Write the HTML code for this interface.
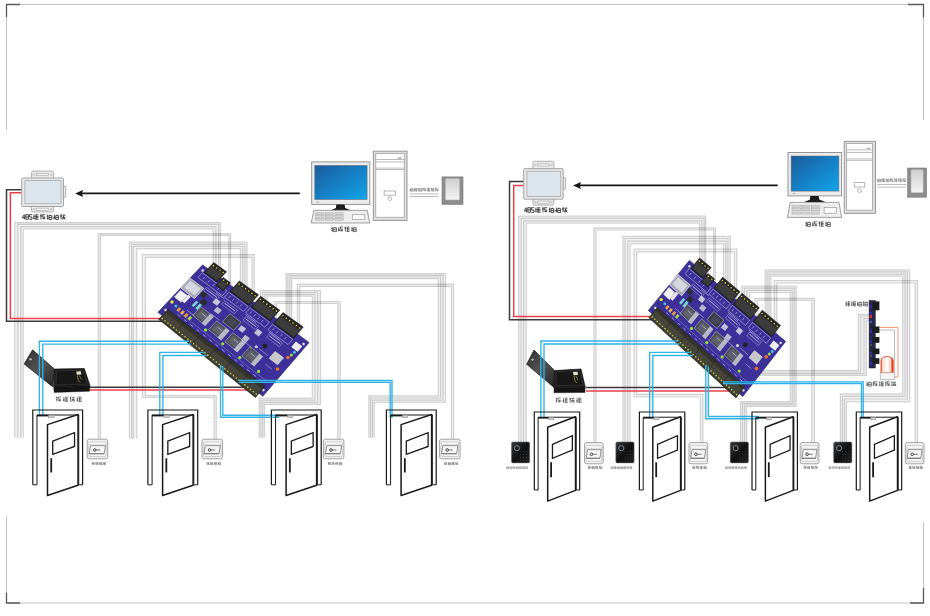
<!DOCTYPE html>
<html><head><meta charset="utf-8"><style>
html,body{margin:0;padding:0;background:#fff;width:930px;height:616px;overflow:hidden}
svg{display:block;font-family:"Liberation Sans",sans-serif}
</style></head><body>
<svg width="930" height="616" viewBox="0 0 930 616">
<rect width="930" height="616" fill="#fff"/>
<path d="M6.5,130 L6.5,4.5 L923.5,4.5 L923.5,120" stroke="#c4c4c4" stroke-width="1" fill="none" />
<path d="M6.5,516 L6.5,603 L923.5,603 L923.5,522" stroke="#c4c4c4" stroke-width="1" fill="none" />
<path d="M6.5,17 L6.5,4.5 L20,4.5" stroke="#5a5a5a" stroke-width="1.3" fill="none" />
<path d="M908,4.5 L923.5,4.5 L923.5,17.5" stroke="#5a5a5a" stroke-width="1.3" fill="none" />
<path d="M6.5,592.5 L6.5,603 L20,603" stroke="#5a5a5a" stroke-width="1.3" fill="none" />
<path d="M910,603 L923.5,603 L923.5,588" stroke="#5a5a5a" stroke-width="1.3" fill="none" />
<polygon points="220.4,285 220.4,222.6 14.7,222.6 14.7,437.8 23.3,437.8 23.3,228.8 213.2,228.8 213.2,285" fill="#000" stroke="none" stroke-width="0" fill-opacity="0.05"/>
<path d="M220.4,285 L220.4,222.6 L14.7,222.6 L14.7,437.8" stroke="#000" stroke-width="1.2" fill="none" stroke-opacity="0.16"/>
<path d="M218.6,285 L218.6,224.4 L17.7,224.4 L17.7,437.8" stroke="#000" stroke-width="1.2" fill="none" stroke-opacity="0.16"/>
<path d="M215.9,285 L215.9,226.6 L20.75,226.6 L20.75,437.8" stroke="#000" stroke-width="1.2" fill="none" stroke-opacity="0.16"/>
<path d="M213.2,285 L213.2,228.8 L23.3,228.8 L23.3,437.8" stroke="#000" stroke-width="1.2" fill="none" stroke-opacity="0.16"/>
<polygon points="230.6,295 230.6,233.6 98.2,233.6 98.2,439.5 100.4,439.5 100.4,235.4 228.8,235.4 228.8,295" fill="#000" stroke="none" stroke-width="0" fill-opacity="0.05"/>
<path d="M230.6,295 L230.6,233.6 L98.2,233.6 L98.2,439.5" stroke="#000" stroke-width="1.2" fill="none" stroke-opacity="0.16"/>
<path d="M228.8,295 L228.8,235.4 L100.4,235.4 L100.4,439.5" stroke="#000" stroke-width="1.2" fill="none" stroke-opacity="0.16"/>
<polygon points="247.1,305 247.1,242.2 129.4,242.2 129.4,438.8 136.8,438.8 136.8,248.6 240.4,248.6 240.4,305" fill="#000" stroke="none" stroke-width="0" fill-opacity="0.05"/>
<path d="M247.1,305 L247.1,242.2 L129.4,242.2 L129.4,438.8" stroke="#000" stroke-width="1.2" fill="none" stroke-opacity="0.16"/>
<path d="M244.9,305 L244.9,244.4 L131.6,244.4 L131.6,438.8" stroke="#000" stroke-width="1.2" fill="none" stroke-opacity="0.16"/>
<path d="M242.7,305 L242.7,246.3 L133.2,246.3 L133.2,438.8" stroke="#000" stroke-width="1.2" fill="none" stroke-opacity="0.16"/>
<path d="M240.4,305 L240.4,248.6 L136.8,248.6 L136.8,438.8" stroke="#000" stroke-width="1.2" fill="none" stroke-opacity="0.16"/>
<polygon points="254.3,310 254.3,254.6 142.4,254.6 142.4,397.5 214,397.5 214,439.5 216.3,439.5 216.3,395.6 145.4,395.6 145.4,257.4 252,257.4 252,310" fill="#000" stroke="none" stroke-width="0" fill-opacity="0.05"/>
<path d="M254.3,310 L254.3,254.6 L142.4,254.6 L142.4,397.5 L214,397.5 L214,439.5" stroke="#000" stroke-width="1.2" fill="none" stroke-opacity="0.16"/>
<path d="M252,310 L252,257.4 L145.4,257.4 L145.4,395.6 L216.3,395.6 L216.3,439.5" stroke="#000" stroke-width="1.2" fill="none" stroke-opacity="0.16"/>
<polygon points="286,335 286,273.6 445.5,273.6 445.5,402.3 374.2,402.3 374.2,437.8 368.8,437.8 368.8,395.85 438.3,395.85 438.3,278.7 291.7,278.7 291.7,335" fill="#000" stroke="none" stroke-width="0" fill-opacity="0.05"/>
<path d="M286,335 L286,273.6 L445.5,273.6 L445.5,402.3 L374.2,402.3 L374.2,437.8" stroke="#000" stroke-width="1.2" fill="none" stroke-opacity="0.16"/>
<path d="M287.9,335 L287.9,275.3 L443.1,275.3 L443.1,400.15 L372.4,400.15 L372.4,437.8" stroke="#000" stroke-width="1.2" fill="none" stroke-opacity="0.16"/>
<path d="M289.8,335 L289.8,277 L440.7,277 L440.7,398 L370.6,398 L370.6,437.8" stroke="#000" stroke-width="1.2" fill="none" stroke-opacity="0.16"/>
<path d="M291.7,335 L291.7,278.7 L438.3,278.7 L438.3,395.85 L368.8,395.85 L368.8,437.8" stroke="#000" stroke-width="1.2" fill="none" stroke-opacity="0.16"/>
<polygon points="297.4,342 297.4,284.1 453.6,284.1 453.6,439.5 451.4,439.5 451.4,286.4 299.7,286.4 299.7,342" fill="#000" stroke="none" stroke-width="0" fill-opacity="0.05"/>
<path d="M297.4,342 L297.4,284.1 L453.6,284.1 L453.6,439.5" stroke="#000" stroke-width="1.2" fill="none" stroke-opacity="0.16"/>
<path d="M299.7,342 L299.7,286.4 L451.4,286.4 L451.4,439.5" stroke="#000" stroke-width="1.2" fill="none" stroke-opacity="0.16"/>
<polygon points="260.5,318 260.5,290.5 320.4,290.5 320.4,404.4 264.5,404.4 264.5,437.8 259.1,437.8 259.1,398.1 312.3,398.1 312.3,296.2 267.1,296.2 267.1,318" fill="#000" stroke="none" stroke-width="0" fill-opacity="0.05"/>
<path d="M260.5,318 L260.5,290.5 L320.4,290.5 L320.4,404.4 L264.5,404.4 L264.5,437.8" stroke="#000" stroke-width="1.2" fill="none" stroke-opacity="0.16"/>
<path d="M262.7,318 L262.7,292.4 L317.7,292.4 L317.7,402.3 L262.7,402.3 L262.7,437.8" stroke="#000" stroke-width="1.2" fill="none" stroke-opacity="0.16"/>
<path d="M264.9,318 L264.9,294.3 L315,294.3 L315,400.2 L260.9,400.2 L260.9,437.8" stroke="#000" stroke-width="1.2" fill="none" stroke-opacity="0.16"/>
<path d="M267.1,318 L267.1,296.2 L312.3,296.2 L312.3,398.1 L259.1,398.1 L259.1,437.8" stroke="#000" stroke-width="1.2" fill="none" stroke-opacity="0.16"/>
<polygon points="274,325 274,301.5 340.2,301.5 340.2,439.5 337.8,439.5 337.8,303.4 276.4,303.4 276.4,325" fill="#000" stroke="none" stroke-width="0" fill-opacity="0.05"/>
<path d="M274,325 L274,301.5 L340.2,301.5 L340.2,439.5" stroke="#000" stroke-width="1.2" fill="none" stroke-opacity="0.16"/>
<path d="M276.4,325 L276.4,303.4 L337.8,303.4 L337.8,439.5" stroke="#000" stroke-width="1.2" fill="none" stroke-opacity="0.16"/>
<path d="M21.7,189.8 L6.5,189.8 L6.5,321.3 L172,321.3" stroke="#3a3a3a" stroke-width="1.5" fill="none" />
<path d="M21.7,192.8 L10.4,192.8 L10.4,318.6 L172,318.6" stroke="#e8404c" stroke-width="1.5" fill="none" />
<path d="M86,387.3 L250,387.3" stroke="#3a3a3a" stroke-width="1.5" fill="none" />
<path d="M86,390.1 L250,390.1" stroke="#e8404c" stroke-width="1.5" fill="none" />
<defs><linearGradient id="pbl" x1="0" y1="0" x2="1" y2="1"><stop offset="0" stop-color="#2c2c2c"/><stop offset="0.5" stop-color="#555555"/><stop offset="1" stop-color="#222222"/></linearGradient></defs>
<polygon points="24.1,364 32.6,349.8 55.3,369.7 52.5,386.7" fill="url(#pbl)" stroke="#0e0e0e" stroke-width="0.6" />
<circle cx="30.5" cy="359.32" r="1.2" fill="#bbb"/>
<polygon points="54.8,369.1 84.3,368.5 90,385.6 53.6,386.7" fill="#222" stroke="#101010" stroke-width="0.7" />
<polygon points="57.02,370.78 82.39,370.3 87.29,383.98 55.99,384.86" fill="#171717" stroke="#3a3a3a" stroke-width="0.5" />
<polygon points="53.6,386.7 90,385.6 89.4,391.3 54.2,392.4" fill="#141414" stroke="#0a0a0a" stroke-width="0.4" />
<polygon points="76.3,371.5 80.8,371.2 81.3,374.5 76.8,374.8" fill="#e8e2c8" stroke="none" stroke-width="1.0" />
<path d="M77.3,375.5 L78.3,380.5 L80.3,382.5" stroke="#b8a040" stroke-width="0.7" fill="none" />
<path d="M79.3,375.5 L81.3,379.5" stroke="#c0b050" stroke-width="0.6" fill="none" />
<path d="M56.83,396.81L56.83,401.59M56.01,399.47L57.49,399.72M56.01,397.35L57.49,397.54M58.02,396.97L61.09,396.97M58.28,396.97L58.28,399.2M58.28,399.2L61.09,399.2M58.02,400.53L61.09,400.53M59.88,399.2L59.88,401.59M63.86,396.81L63.86,401.59M62.91,399.47L64.66,399.23M62.91,400.53L64.66,400.69M65.19,397.08L67.99,397.08M65.19,398.67L67.99,398.67M65.19,400L67.99,400M65.19,401.43L67.99,401.43M66.06,397.08L66.06,401.43M70.5,396.81L70.5,401.59M69.81,397.35L71.03,397.57M69.81,398.41L71.03,398.66M71.56,397.35L74.89,397.35M73.67,397.35L71.56,401.59M73.14,398.94L74.89,401.59M71.56,399.47L74.73,399.47M72.09,400.79L74.47,400.79M77.39,396.81L77.39,401.59M76.71,399.47L77.92,399.52M76.71,400.53L77.92,400.5M78.45,397.08L81.79,397.08M78.45,398.67L81.79,398.67M78.45,400L81.79,400M78.45,401.43L81.79,401.43M79.49,397.08L79.49,401.43" stroke="#555" stroke-width="0.75" fill="none"/>
<rect x="31.52" y="171.16" width="22.15" height="7.84" rx="1.5" fill="#ececec" stroke="#9d9d9d" stroke-width="0.8" />
<rect x="31.52" y="205.5" width="22.15" height="6.47" rx="1.5" fill="#ececec" stroke="#9d9d9d" stroke-width="0.8" />
<rect x="36.54" y="173.48" width="12.12" height="2.2" rx="0" fill="#f4f4f4" stroke="#a5a5a5" stroke-width="0.6" />
<circle cx="34.03" cy="174.58" r="0.9" fill="none" stroke="#a5a5a5" stroke-width="0.5"/>
<circle cx="51.17" cy="174.58" r="0.9" fill="none" stroke="#a5a5a5" stroke-width="0.5"/>
<rect x="36.54" y="208.14" width="12.12" height="2.2" rx="0" fill="#f4f4f4" stroke="#a5a5a5" stroke-width="0.6" />
<circle cx="34.03" cy="209.24" r="0.9" fill="none" stroke="#a5a5a5" stroke-width="0.5"/>
<circle cx="51.17" cy="209.24" r="0.9" fill="none" stroke="#a5a5a5" stroke-width="0.5"/>
<rect x="63" y="186.55" width="2.8" height="10.54" rx="0" fill="#ececec" stroke="#9d9d9d" stroke-width="0.7" />
<rect x="21.7" y="178" width="41.8" height="28.5" rx="1.2" fill="#e9e9e9" stroke="#9a9a9a" stroke-width="0.9" />
<rect x="24.9" y="180.6" width="36.2" height="23.1" rx="0" fill="#dce5eb" stroke="#a9a9a9" stroke-width="0.8" />
<path d="M24.28,219.3L24.28,214.7L22.2,217.8L25,217.8M25.8,214.7h2.6v4.6h-2.6zM25.8,217h2.6M32,214.7h-2.6v2.3h2.6v2.3h-2.6" stroke="#333" stroke-width="0.9" fill="none"/>
<path d="M34.01,214.57L34.01,219.43M33.31,216.19L34.55,216.4M33.31,218.35L34.55,218.25M35.09,214.84L38.49,214.84M35.09,216.46L38.49,216.46M35.09,217.81L38.49,217.81M35.09,219.27L38.49,219.27M36.14,214.84L36.14,219.27M40.98,214.57L40.98,219.43M40.01,215.11L41.79,214.86M40.01,216.19L41.79,215.92M42.33,214.73L45.19,214.73M42.6,214.73L42.6,217M42.6,217L45.19,217M42.33,218.35L45.19,218.35M43.95,217L43.95,219.43M47.68,214.57L47.68,219.43M46.71,218.35L48.49,218.37M46.71,216.19L48.49,215.86M49.03,215.65L51.89,215.65M49.03,215.65L49.03,219.43M51.89,215.65L51.89,219.43M49.03,217.54L51.89,217.54M49.03,219.43L51.89,219.43M50.38,214.57L50.38,215.65M54.38,214.57L54.38,219.43M53.41,218.35L55.19,217.93M53.41,217.27L55.19,217.38M55.73,215.65L58.59,215.65M55.73,215.65L55.73,219.43M58.59,215.65L58.59,219.43M55.73,217.54L58.59,217.54M55.73,219.43L58.59,219.43M57.08,214.57L57.08,215.65M61.08,214.57L61.08,219.43M60.11,215.11L61.89,215.23M60.11,216.19L61.89,216.34M62.43,215.11L65.29,215.11M64.05,215.11L62.43,219.43M63.51,216.73L65.29,219.43M62.43,217.27L65.13,217.27M62.97,218.62L64.86,218.62" stroke="#3a3a3a" stroke-width="0.9" fill="none"/>
<path d="M81.1,193.4 L299.8,193.4" stroke="#151515" stroke-width="1.7" fill="none" />
<polygon points="75.1,193.4 83.1,189.9 81.9,193.4 83.1,196.9" fill="#151515" stroke="none" stroke-width="1.0" />
<rect x="373.3" y="151.2" width="33.7" height="69.2" rx="0" fill="#dedede" stroke="#8f8f8f" stroke-width="0.9" />
<rect x="375.8" y="153.4" width="28.4" height="63.8" rx="0" fill="#ffffff" stroke="#9a9a9a" stroke-width="0.7" />
<path d="M375.8,159.5 L404.2,159.5" stroke="#a0a0a0" stroke-width="0.7" fill="none" />
<path d="M375.8,161.93 L404.2,161.93" stroke="#a0a0a0" stroke-width="0.7" fill="none" />
<path d="M375.8,168.15 L404.2,168.15" stroke="#a0a0a0" stroke-width="0.7" fill="none" />
<path d="M375.8,169.54 L404.2,169.54" stroke="#a0a0a0" stroke-width="0.7" fill="none" />
<rect x="397.56" y="157.43" width="4.04" height="1.38" rx="0" fill="#aaa" stroke="none" stroke-width="1.0" />
<rect x="384.08" y="190.99" width="11.46" height="4.15" rx="0" fill="#fff" stroke="#888" stroke-width="0.6" />
<circle cx="389.81" cy="198.6" r="1.9" fill="#fff" stroke="#888" stroke-width="0.6"/>
<rect x="311.7" y="161.9" width="58.1" height="42.5" rx="0" fill="#ececec" stroke="#8c8c8c" stroke-width="0.9" />
<defs><linearGradient id="scr311" x1="0" y1="0" x2="1" y2="1"><stop offset="0" stop-color="#1d5c9c"/><stop offset="0.55" stop-color="#1583c8"/><stop offset="1" stop-color="#12a6ea"/></linearGradient></defs>
<rect x="314.8" y="165.4" width="52.3" height="34.2" rx="0" fill="url(#scr311)" stroke="#6a6a6a" stroke-width="0.5" />
<path d="M316.2,202 L319.2,202" stroke="#888" stroke-width="0.6" fill="none" />
<polygon points="336.25,204.4 344.55,204.4 345.25,208 351.25,210.6 330.25,210.6 335.95,208" fill="#1b1b1b" stroke="none" stroke-width="1.0" />
<polygon points="313.9,210.3 367.2,210.3 369.8,223 311.2,223" fill="#ededed" stroke="#8a8a8a" stroke-width="0.8" />
<rect x="315.7" y="212.84" width="8.4" height="1.78" rx="0" fill="#d6d6d6" stroke="#9a9a9a" stroke-width="0.4" />
<rect x="315.7" y="215.63" width="8.4" height="1.78" rx="0" fill="#d6d6d6" stroke="#9a9a9a" stroke-width="0.4" />
<rect x="315.7" y="218.43" width="8.4" height="1.78" rx="0" fill="#d6d6d6" stroke="#9a9a9a" stroke-width="0.4" />
<rect x="325.3" y="212.84" width="8.4" height="1.78" rx="0" fill="#d6d6d6" stroke="#9a9a9a" stroke-width="0.4" />
<rect x="325.3" y="215.63" width="8.4" height="1.78" rx="0" fill="#d6d6d6" stroke="#9a9a9a" stroke-width="0.4" />
<rect x="325.3" y="218.43" width="8.4" height="1.78" rx="0" fill="#d6d6d6" stroke="#9a9a9a" stroke-width="0.4" />
<rect x="334.9" y="212.84" width="8.4" height="1.78" rx="0" fill="#d6d6d6" stroke="#9a9a9a" stroke-width="0.4" />
<rect x="334.9" y="215.63" width="8.4" height="1.78" rx="0" fill="#d6d6d6" stroke="#9a9a9a" stroke-width="0.4" />
<rect x="334.9" y="218.43" width="8.4" height="1.78" rx="0" fill="#d6d6d6" stroke="#9a9a9a" stroke-width="0.4" />
<rect x="352.3" y="214.75" width="12.5" height="4.7" rx="0" fill="#fafafa" stroke="#8f8f8f" stroke-width="0.6" />
<path d="M332.18,226.81L332.18,231.59M331.36,230.53L332.84,230.45M331.36,228.41L332.84,228.39M333.37,227.88L336.44,227.88M333.37,227.88L333.37,231.59M336.44,227.88L336.44,231.59M333.37,229.73L336.44,229.73M333.37,231.59L336.44,231.59M334.96,226.81L334.96,227.88M338.91,226.81L338.91,231.59M337.96,230.53L339.71,230.52M337.96,229.47L339.71,229.17M340.24,226.97L343.04,226.97M340.5,226.97L340.5,229.2M340.5,229.2L343.04,229.2M340.24,230.53L343.04,230.53M341.83,229.2L341.83,231.59M345.38,226.81L345.38,231.59M344.56,228.41L346.04,228.35M344.56,227.34L346.04,227.53M346.57,227.08L349.64,227.08M346.57,228.67L349.64,228.67M346.57,230L349.64,230M346.57,231.43L349.64,231.43M347.52,227.08L347.52,231.43M352.11,226.81L352.11,231.59M351.16,230.53L352.91,230.55M351.16,228.41L352.91,228.41M353.44,227.88L356.24,227.88M353.44,227.88L353.44,231.59M356.24,227.88L356.24,231.59M353.44,229.73L356.24,229.73M353.44,231.59L356.24,231.59M354.76,226.81L354.76,227.88" stroke="#444" stroke-width="0.8" fill="none"/>
<path d="M410.24,188.08L410.24,191.32M409.77,190.6L410.6,190.51M409.77,189.88L410.6,189.72M410.96,188.8L413.23,188.8M410.96,188.8L410.96,191.32M413.23,188.8L413.23,191.32M410.96,190.06L413.23,190.06M410.96,191.32L413.23,191.32M412.22,188.08L412.22,188.8M414.53,188.08L414.53,191.32M413.97,189.16L414.98,189.12M413.97,189.88L414.98,189.96M415.34,188.26L417.43,188.26M415.34,189.34L417.43,189.34M415.34,190.24L417.43,190.24M415.34,191.21L417.43,191.21M415.99,188.26L415.99,191.21M418.73,188.08L418.73,191.32M418.17,190.6L419.18,190.38M418.17,188.44L419.18,188.5M419.54,188.8L421.63,188.8M419.54,188.8L419.54,191.32M421.63,188.8L421.63,191.32M419.54,190.06L421.63,190.06M419.54,191.32L421.63,191.32M420.62,188.08L420.62,188.8M423.02,188.08L423.02,191.32M422.37,188.44L423.56,188.62M422.37,189.16L423.56,189.22M423.92,188.19L425.83,188.19M424.1,188.19L424.1,189.7M424.1,189.7L425.83,189.7M423.92,190.6L425.83,190.6M425,189.7L425,191.32M427.22,188.08L427.22,191.32M426.57,190.6L427.76,190.76M426.57,188.44L427.76,188.4M428.12,188.26L430.03,188.26M428.12,189.34L430.03,189.34M428.12,190.24L430.03,190.24M428.12,191.21L430.03,191.21M428.71,188.26L428.71,191.21M431.42,188.08L431.42,191.32M430.77,189.88L431.96,189.66M430.77,188.44L431.96,188.53M432.32,188.26L434.23,188.26M432.32,189.34L434.23,189.34M432.32,190.24L434.23,190.24M432.32,191.21L434.23,191.21M432.91,188.26L432.91,191.21M435.44,188.08L435.44,191.32M434.97,190.6L435.8,190.57M434.97,188.44L435.8,188.31M436.16,188.19L438.43,188.19M436.34,188.19L436.34,189.7M436.34,189.7L438.43,189.7M436.16,190.6L438.43,190.6M437.6,189.7L437.6,191.32" stroke="#666" stroke-width="0.5" fill="none"/>
<path d="M409.7,193.9 L438.7,193.9" stroke="#a9a9a9" stroke-width="0.8" fill="none" />
<path d="M409.7,196.5 L438.7,196.5" stroke="#a9a9a9" stroke-width="0.8" fill="none" />
<defs><linearGradient id="usb442" x1="0" y1="0" x2="0" y2="1"><stop offset="0" stop-color="#cfcfcf"/><stop offset="1" stop-color="#f4f4f4"/></linearGradient></defs>
<rect x="442" y="176.9" width="21" height="27.5" rx="0" fill="#8d8d8d" stroke="#7a7a7a" stroke-width="0.6" />
<rect x="445.4" y="178.5" width="14.2" height="21.4" rx="1.2" fill="url(#usb442)" stroke="#b0b0b0" stroke-width="0.5" />
<polygon points="202.6,264.9 309,342.5 262.8,396.2 158,312.2" fill="#3d3199" stroke="#2c2278" stroke-width="0.7" />
<polygon points="202.39,272.76 226.82,290.75 222.32,295.66 197.92,277.52" fill="none" stroke="#c9c6f0" stroke-width="0.55" />
<path d="M204.71,276.89 L202.92,278.8" stroke="#e0def8" stroke-width="0.6" fill="none" />
<path d="M209.6,280.5 L207.81,282.42" stroke="#e0def8" stroke-width="0.6" fill="none" />
<path d="M214.48,284.11 L212.69,286.04" stroke="#e0def8" stroke-width="0.6" fill="none" />
<path d="M219.37,287.72 L217.57,289.66" stroke="#e0def8" stroke-width="0.6" fill="none" />
<polygon points="228.95,292.32 248.07,306.4 243.54,311.43 224.44,297.24" fill="none" stroke="#c9c6f0" stroke-width="0.55" />
<path d="M230.46,295.91 L228.66,297.89" stroke="#e0def8" stroke-width="0.6" fill="none" />
<path d="M234.29,298.74 L232.48,300.72" stroke="#e0def8" stroke-width="0.6" fill="none" />
<path d="M238.11,301.56 L236.3,303.55" stroke="#e0def8" stroke-width="0.6" fill="none" />
<path d="M241.93,304.38 L240.12,306.38" stroke="#e0def8" stroke-width="0.6" fill="none" />
<polygon points="250.2,307.97 269.32,322.05 264.75,327.21 245.66,313.01" fill="none" stroke="#c9c6f0" stroke-width="0.55" />
<path d="M251.7,311.6 L249.89,313.62" stroke="#e0def8" stroke-width="0.6" fill="none" />
<path d="M255.53,314.42 L253.71,316.46" stroke="#e0def8" stroke-width="0.6" fill="none" />
<path d="M259.35,317.25 L257.53,319.29" stroke="#e0def8" stroke-width="0.6" fill="none" />
<path d="M263.17,320.07 L261.35,322.12" stroke="#e0def8" stroke-width="0.6" fill="none" />
<polygon points="272.51,324.4 292.69,339.26 288.09,344.56 267.94,329.58" fill="none" stroke="#c9c6f0" stroke-width="0.55" />
<path d="M274.16,328.19 L272.33,330.27" stroke="#e0def8" stroke-width="0.6" fill="none" />
<path d="M278.2,331.17 L276.37,333.26" stroke="#e0def8" stroke-width="0.6" fill="none" />
<path d="M282.23,334.15 L280.4,336.25" stroke="#e0def8" stroke-width="0.6" fill="none" />
<path d="M286.27,337.13 L284.43,339.24" stroke="#e0def8" stroke-width="0.6" fill="none" />
<polygon points="224.76,300.78 237.48,310.28 234.31,313.78 221.6,304.23" fill="none" stroke="#b8b4ec" stroke-width="0.5" />
<path d="M224.47,303.06 L235.06,310.99" stroke="#d8d6f6" stroke-width="0.8" fill="none" />
<polygon points="245.96,316.61 258.69,326.11 255.49,329.7 242.79,320.15" fill="none" stroke="#b8b4ec" stroke-width="0.5" />
<path d="M245.66,318.92 L256.26,326.85" stroke="#d8d6f6" stroke-width="0.8" fill="none" />
<polygon points="269.75,333.5 282.47,342.99 279.25,346.68 266.54,337.14" fill="none" stroke="#b8b4ec" stroke-width="0.5" />
<path d="M269.43,335.85 L280.03,343.78" stroke="#d8d6f6" stroke-width="0.8" fill="none" />
<polygon points="206.74,287.33 219.46,296.83 216.31,300.25 203.6,290.7" fill="none" stroke="#b8b4ec" stroke-width="0.5" />
<path d="M206.45,289.57 L217.05,297.5" stroke="#d8d6f6" stroke-width="0.8" fill="none" />
<path d="M177.74,314.59 L180.37,316.66" stroke="#c8c6f0" stroke-width="0.7" fill="none" />
<path d="M184.05,319.57 L186.67,321.64" stroke="#c8c6f0" stroke-width="0.7" fill="none" />
<path d="M190.35,324.55 L192.98,326.62" stroke="#c8c6f0" stroke-width="0.7" fill="none" />
<path d="M196.65,329.52 L199.28,331.6" stroke="#c8c6f0" stroke-width="0.7" fill="none" />
<path d="M202.96,334.5 L205.58,336.58" stroke="#c8c6f0" stroke-width="0.7" fill="none" />
<path d="M209.26,339.48 L211.89,341.56" stroke="#c8c6f0" stroke-width="0.7" fill="none" />
<path d="M215.56,344.46 L218.19,346.53" stroke="#c8c6f0" stroke-width="0.7" fill="none" />
<path d="M221.87,349.44 L224.49,351.51" stroke="#c8c6f0" stroke-width="0.7" fill="none" />
<path d="M228.17,354.42 L230.8,356.49" stroke="#c8c6f0" stroke-width="0.7" fill="none" />
<path d="M234.47,359.4 L237.1,361.47" stroke="#c8c6f0" stroke-width="0.7" fill="none" />
<path d="M240.78,364.37 L243.4,366.45" stroke="#c8c6f0" stroke-width="0.7" fill="none" />
<path d="M247.08,369.35 L249.71,371.43" stroke="#c8c6f0" stroke-width="0.7" fill="none" />
<path d="M253.38,374.33 L256.01,376.41" stroke="#c8c6f0" stroke-width="0.7" fill="none" />
<path d="M259.69,379.31 L262.31,381.38" stroke="#c8c6f0" stroke-width="0.7" fill="none" />
<path d="M177.43,311.01 L266.78,381.32" stroke="#8f8ad8" stroke-width="0.5" fill="none" />
<circle cx="202.67" cy="270.55" r="1.2" fill="#ececf0" stroke="#9a98c8" stroke-width="0.4"/>
<circle cx="303.58" cy="343.96" r="1.2" fill="#ececf0" stroke="#9a98c8" stroke-width="0.4"/>
<circle cx="263.39" cy="389.97" r="1.2" fill="#ececf0" stroke="#9a98c8" stroke-width="0.4"/>
<circle cx="165.61" cy="309.97" r="1.2" fill="#ececf0" stroke="#9a98c8" stroke-width="0.4"/>
<polygon points="190.11,278.14 203.89,288.46 194.48,298.57 180.75,288.08" fill="#a8a8b4" stroke="#eeeeee" stroke-width="0.7" />
<polygon points="190.36,280.76 200.95,288.72 194.68,295.44 184.12,287.39" fill="#d6d6de" stroke="none" stroke-width="0.6" />
<polygon points="180.46,290.31 187.33,295.57 181.06,302.25 174.22,296.94" fill="#f2f2f2" stroke="#cccccc" stroke-width="0.4" />
<polygon points="188.22,294.61 190.86,296.63 184.59,303.34 181.96,301.3" fill="#e8e8ee" stroke="none" stroke-width="0.6" />
<circle cx="171.99" cy="302.02" r="1.7" fill="#e6e63a"/>
<circle cx="175.96" cy="305.96" r="1.5" fill="#3cc8d0"/>
<polygon points="179.07,307.31 181.17,308.96 178.48,311.84 176.38,310.18" fill="#f0a040" stroke="none" stroke-width="0.6" />
<polygon points="182.75,310.19 184.85,311.84 182.16,314.73 180.06,313.08" fill="#f0b050" stroke="none" stroke-width="0.6" />
<polygon points="186.43,313.08 188.53,314.72 185.84,317.63 183.74,315.98" fill="#e8a040" stroke="none" stroke-width="0.6" />
<polygon points="190.11,315.96 192.22,317.6 189.52,320.52 187.42,318.87" fill="#a8e040" stroke="none" stroke-width="0.6" />
<polygon points="196.14,300.67 198.25,302.29 193.76,307.12 191.66,305.5" fill="#7ad8d0" stroke="none" stroke-width="0.6" />
<polygon points="199.84,303.5 201.95,305.11 197.46,309.98 195.35,308.35" fill="#7ad8d0" stroke="none" stroke-width="0.6" />
<polygon points="200.81,306.73 213.06,316.13 204.93,325.02 192.72,315.49" fill="#4e4e5c" stroke="#c8c8d8" stroke-width="0.5" />
<polygon points="201.36,309.65 209.8,316.15 204.39,322.06 195.97,315.5" fill="#62626f" stroke="none" stroke-width="0.6" />
<polygon points="210.1,313.86 213.79,316.7 205.22,326.08 201.54,323.21" fill="#b8b8c8" stroke="none" stroke-width="0.6" />
<path d="M201.67,313.23 L205.89,316.49" stroke="#d8d8e4" stroke-width="0.6" fill="none" />
<polygon points="216.66,320.83 228.9,330.25 220.73,339.32 208.53,329.77" fill="#4e4e5c" stroke="#c8c8d8" stroke-width="0.5" />
<polygon points="217.2,323.79 225.64,330.29 220.2,336.33 211.78,329.76" fill="#62626f" stroke="none" stroke-width="0.6" />
<polygon points="225.95,327.98 229.64,330.82 221.02,340.4 217.33,337.52" fill="#b8b8c8" stroke="none" stroke-width="0.6" />
<path d="M217.5,327.41 L221.72,330.67" stroke="#d8d8e4" stroke-width="0.6" fill="none" />
<polygon points="232.96,332.68 245.2,342.09 236.99,351.33 224.78,341.79" fill="#4e4e5c" stroke="#c8c8d8" stroke-width="0.5" />
<polygon points="233.49,335.66 241.93,342.17 236.46,348.32 228.04,341.75" fill="#62626f" stroke="none" stroke-width="0.6" />
<polygon points="242.24,339.82 245.94,342.66 237.27,352.42 233.58,349.54" fill="#b8b8c8" stroke="none" stroke-width="0.6" />
<path d="M233.78,339.32 L238,342.58" stroke="#d8d8e4" stroke-width="0.6" fill="none" />
<polygon points="250.02,346.66 262.26,356.07 254,365.51 241.79,355.96" fill="#4e4e5c" stroke="#c8c8d8" stroke-width="0.5" />
<polygon points="250.54,349.67 258.98,356.18 253.48,362.46 245.06,355.89" fill="#62626f" stroke="none" stroke-width="0.6" />
<polygon points="259.3,353.8 263,356.64 254.28,366.61 250.59,363.73" fill="#b8b8c8" stroke="none" stroke-width="0.6" />
<path d="M250.82,353.38 L255.04,356.64" stroke="#d8d8e4" stroke-width="0.6" fill="none" />
<circle cx="205.64" cy="329.97" r="1.6" fill="#98e040"/>
<circle cx="222.66" cy="343.75" r="1.6" fill="#98e040"/>
<circle cx="239.74" cy="357.68" r="1.6" fill="#98e040"/>
<circle cx="258.59" cy="371.41" r="1.6" fill="#98e040"/>
<polygon points="229.86,313.79 240.97,322.17 233.7,330.26 222.62,321.77" fill="#3c3c48" stroke="#b8b8c8" stroke-width="0.6" />
<polygon points="230.61,316.89 237.49,322.09 232.95,327.13 226.09,321.89" fill="#484856" stroke="none" stroke-width="0.6" />
<polygon points="203.14,298.57 207.79,302.1 204.19,306 199.55,302.45" fill="#2a2a34" stroke="none" stroke-width="0.6" />
<polygon points="215.94,298.32 220.6,301.82 216.99,305.75 212.34,302.23" fill="#c8c8dc" stroke="none" stroke-width="0.6" />
<polygon points="217.18,306.72 221.83,310.24 218.22,314.2 213.57,310.66" fill="#b8b8d0" stroke="none" stroke-width="0.6" />
<polygon points="202.94,291.03 207.6,294.53 204.01,298.41 199.35,294.88" fill="#2e2e38" stroke="none" stroke-width="0.6" />
<polygon points="241.51,325.13 246.17,328.65 242.52,332.73 237.87,329.19" fill="#c0c0d8" stroke="none" stroke-width="0.6" />
<polygon points="245.27,334.82 249.92,338.37 246.27,342.48 241.63,338.91" fill="#b8b8d0" stroke="none" stroke-width="0.6" />
<polygon points="257.71,328.8 262.37,332.29 258.72,336.42 254.06,332.91" fill="#c4c4dc" stroke="none" stroke-width="0.6" />
<path d="M216.12,292.69 L224.6,299.01" stroke="#d0ccf4" stroke-width="0.9" fill="none" stroke-dasharray="0.8,0.5"/>
<path d="M245.81,314.81 L256.42,322.71" stroke="#d0ccf4" stroke-width="0.9" fill="none" stroke-dasharray="0.8,0.5"/>
<path d="M269.14,332.19 L279.75,340.09" stroke="#d0ccf4" stroke-width="0.9" fill="none" stroke-dasharray="0.8,0.5"/>
<path d="M211.08,313.77 L219.52,320.25" stroke="#d0ccf4" stroke-width="0.9" fill="none" stroke-dasharray="0.8,0.5"/>
<path d="M241.38,339.59 L251.93,347.7" stroke="#d0ccf4" stroke-width="0.9" fill="none" stroke-dasharray="0.8,0.5"/>
<path d="M259.5,349.15 L267.95,355.61" stroke="#d0ccf4" stroke-width="0.9" fill="none" stroke-dasharray="0.8,0.5"/>
<path d="M187.17,310.32 L194.54,316.07" stroke="#d0ccf4" stroke-width="0.9" fill="none" stroke-dasharray="0.8,0.5"/>
<path d="M265.6,364.37 L271.92,369.27" stroke="#d0ccf4" stroke-width="0.9" fill="none" stroke-dasharray="0.8,0.5"/>
<circle cx="264.93" cy="345.98" r="2.4" fill="#202020"/>
<circle cx="256.33" cy="346.73" r="1.6" fill="#d0d0d8"/>
<polygon points="275.12,351.43 283.58,357.84 277.59,364.76 269.14,358.28" fill="#c8c8c8" stroke="#f0f0f0" stroke-width="0.5" />
<circle cx="277.44" cy="368.99" r="1.8" fill="#f07028"/>
<circle cx="288.01" cy="357.57" r="1.8" fill="#f07028"/>
<circle cx="291.36" cy="354.89" r="1.5" fill="#a0e040"/>
<circle cx="294.43" cy="352.35" r="1.5" fill="#40c8e0"/>
<polygon points="295.88,341.61 302.26,346.31 297.64,351.66 291.27,346.93" fill="#f0f0f0" stroke="none" stroke-width="0.6" />
<polygon points="213.73,262.59 226.52,271.8 217.1,281.96 204.35,272.59" fill="#262626" stroke="#111" stroke-width="0.5" />
<polygon points="211.45,265.98 223.16,274.46 217.32,280.76 205.63,272.18" fill="#3c3c3c" stroke="none" stroke-width="0.6" />
<circle cx="213.54" cy="265.65" r="0.8" fill="#e8d44a"/>
<circle cx="216.74" cy="267.96" r="0.8" fill="#e8d44a"/>
<circle cx="219.93" cy="270.27" r="0.8" fill="#e8d44a"/>
<circle cx="223.13" cy="272.58" r="0.8" fill="#e8d44a"/>
<polygon points="223.1,277.41 230.55,282.83 223.35,290.66 215.92,285.17" fill="#262626" stroke="#111" stroke-width="0.5" />
<polygon points="221.48,280.13 227.86,284.79 223.39,289.64 217.02,284.94" fill="#3c3c3c" stroke="none" stroke-width="0.6" />
<circle cx="223.61" cy="280.23" r="0.8" fill="#e8d44a"/>
<circle cx="227.34" cy="282.94" r="0.8" fill="#e8d44a"/>
<polygon points="239.31,281.01 258.5,294.83 248.98,305.4 229.85,291.34" fill="#262626" stroke="#111" stroke-width="0.5" />
<polygon points="237.01,284.5 255.11,297.62 249.21,304.16 231.14,290.9" fill="#3c3c3c" stroke="none" stroke-width="0.6" />
<circle cx="239.11" cy="284.14" r="0.8" fill="#e8d44a"/>
<circle cx="242.31" cy="286.45" r="0.8" fill="#e8d44a"/>
<circle cx="245.5" cy="288.76" r="0.8" fill="#e8d44a"/>
<circle cx="248.7" cy="291.07" r="0.8" fill="#e8d44a"/>
<circle cx="251.9" cy="293.38" r="0.8" fill="#e8d44a"/>
<circle cx="255.09" cy="295.69" r="0.8" fill="#e8d44a"/>
<polygon points="260.64,296.37 279.83,310.19 270.23,321.02 251.11,306.96" fill="#262626" stroke="#111" stroke-width="0.5" />
<polygon points="258.31,299.93 276.42,313.05 270.47,319.76 252.4,306.5" fill="#3c3c3c" stroke="none" stroke-width="0.6" />
<circle cx="260.42" cy="299.54" r="0.8" fill="#e8d44a"/>
<circle cx="263.62" cy="301.85" r="0.8" fill="#e8d44a"/>
<circle cx="266.81" cy="304.16" r="0.8" fill="#e8d44a"/>
<circle cx="270.01" cy="306.47" r="0.8" fill="#e8d44a"/>
<circle cx="273.2" cy="308.78" r="0.8" fill="#e8d44a"/>
<circle cx="276.4" cy="311.09" r="0.8" fill="#e8d44a"/>
<polygon points="283.02,312.49 303.28,327.07 293.61,338.2 273.42,323.36" fill="#262626" stroke="#111" stroke-width="0.5" />
<polygon points="280.68,316.14 299.85,330.03 293.86,336.92 274.72,322.88" fill="#3c3c3c" stroke="none" stroke-width="0.6" />
<circle cx="282.88" cy="315.78" r="0.8" fill="#e8d44a"/>
<circle cx="286.26" cy="318.22" r="0.8" fill="#e8d44a"/>
<circle cx="289.63" cy="320.66" r="0.8" fill="#e8d44a"/>
<circle cx="293" cy="323.1" r="0.8" fill="#e8d44a"/>
<circle cx="296.38" cy="325.54" r="0.8" fill="#e8d44a"/>
<circle cx="299.75" cy="327.97" r="0.8" fill="#e8d44a"/>
<polygon points="168,309.38 265.13,386.31 255.44,397.54 158.62,319.36" fill="#34342c" stroke="#1a1a16" stroke-width="0.5" />
<polygon points="165.84,312.65 261.84,389.1 255.84,396.05 160.04,318.84" fill="#45453a" stroke="none" stroke-width="0.6" />
<path d="M184.17,322.19 L174.74,332.38" stroke="#22221c" stroke-width="0.6" fill="none" />
<path d="M200.34,334.99 L190.86,345.39" stroke="#22221c" stroke-width="0.6" fill="none" />
<path d="M216.51,347.8 L206.98,358.41" stroke="#22221c" stroke-width="0.6" fill="none" />
<path d="M232.68,360.61 L223.1,371.42" stroke="#22221c" stroke-width="0.6" fill="none" />
<path d="M248.85,373.42 L239.22,384.44" stroke="#22221c" stroke-width="0.6" fill="none" />
<circle cx="162.2" cy="318.49" r="0.8" fill="#d8d44a"/>
<circle cx="165.05" cy="320.78" r="0.8" fill="#d8d44a"/>
<circle cx="167.9" cy="323.07" r="0.8" fill="#d8d44a"/>
<circle cx="170.75" cy="325.36" r="0.8" fill="#d8d44a"/>
<circle cx="173.6" cy="327.65" r="0.8" fill="#d8d44a"/>
<circle cx="176.45" cy="329.94" r="0.8" fill="#d8d44a"/>
<circle cx="179.29" cy="332.23" r="0.8" fill="#d8d44a"/>
<circle cx="182.14" cy="334.52" r="0.8" fill="#d8d44a"/>
<circle cx="184.99" cy="336.81" r="0.8" fill="#d8d44a"/>
<circle cx="187.84" cy="339.11" r="0.8" fill="#d8d44a"/>
<circle cx="190.69" cy="341.4" r="0.8" fill="#d8d44a"/>
<circle cx="193.54" cy="343.69" r="0.8" fill="#d8d44a"/>
<circle cx="196.39" cy="345.98" r="0.8" fill="#d8d44a"/>
<circle cx="199.24" cy="348.27" r="0.8" fill="#d8d44a"/>
<circle cx="202.09" cy="350.56" r="0.8" fill="#d8d44a"/>
<circle cx="204.94" cy="352.85" r="0.8" fill="#d8d44a"/>
<circle cx="207.78" cy="355.14" r="0.8" fill="#d8d44a"/>
<circle cx="210.63" cy="357.43" r="0.8" fill="#d8d44a"/>
<circle cx="213.48" cy="359.72" r="0.8" fill="#d8d44a"/>
<circle cx="216.33" cy="362.01" r="0.8" fill="#d8d44a"/>
<circle cx="219.18" cy="364.31" r="0.8" fill="#d8d44a"/>
<circle cx="222.03" cy="366.6" r="0.8" fill="#d8d44a"/>
<circle cx="224.88" cy="368.89" r="0.8" fill="#d8d44a"/>
<circle cx="227.73" cy="371.18" r="0.8" fill="#d8d44a"/>
<circle cx="230.58" cy="373.47" r="0.8" fill="#d8d44a"/>
<circle cx="233.43" cy="375.76" r="0.8" fill="#d8d44a"/>
<circle cx="236.27" cy="378.05" r="0.8" fill="#d8d44a"/>
<circle cx="239.12" cy="380.34" r="0.8" fill="#d8d44a"/>
<circle cx="241.97" cy="382.63" r="0.8" fill="#d8d44a"/>
<circle cx="244.82" cy="384.92" r="0.8" fill="#d8d44a"/>
<circle cx="247.67" cy="387.21" r="0.8" fill="#d8d44a"/>
<circle cx="250.52" cy="389.51" r="0.8" fill="#d8d44a"/>
<circle cx="253.37" cy="391.8" r="0.8" fill="#d8d44a"/>
<circle cx="256.22" cy="394.09" r="0.8" fill="#d8d44a"/>
<path d="M39.4,415 L39.4,341.2 L189,341.2" stroke="#30b3e8" stroke-width="1.35" fill="none" />
<path d="M42.8,415 L42.8,344.1 L191,344.1" stroke="#30b3e8" stroke-width="1.35" fill="none" />
<path d="M159.8,415 L159.8,352.4 L204.5,352.4" stroke="#30b3e8" stroke-width="1.35" fill="none" />
<path d="M162.9,415 L162.9,355.5 L206.5,355.5" stroke="#30b3e8" stroke-width="1.35" fill="none" />
<path d="M220.5,365 L220.5,417.2 L279,417.2" stroke="#30b3e8" stroke-width="1.35" fill="none" />
<path d="M222.8,366.5 L222.8,415.2 L279,415.2" stroke="#30b3e8" stroke-width="1.35" fill="none" />
<path d="M239,380.4 L392,380.4 L392,418" stroke="#30b3e8" stroke-width="1.35" fill="none" />
<path d="M239,382.2 L390.2,382.2 L390.2,418" stroke="#30b3e8" stroke-width="1.35" fill="none" />
<path d="M32.8,484.8 L32.8,410 L82.6,410 L82.6,484.8" stroke="#1a1a1a" stroke-width="1.2" fill="none" />
<path d="M36.98,484.8 L36.98,415.01 L78.72,415.01 L78.72,484.8" stroke="#1a1a1a" stroke-width="1.0" fill="none" />
<path d="M32.8,484.8 L36.98,484.8" stroke="#1a1a1a" stroke-width="1.0" fill="none" />
<path d="M78.72,484.8 L82.6,484.8" stroke="#1a1a1a" stroke-width="1.0" fill="none" />
<path d="M36.98,415.61 L49.23,415.61" stroke="#1a1a1a" stroke-width="1.6" fill="none" />
<rect x="48.74" y="415.21" width="5.48" height="2.4" rx="0" fill="#cfcfcf" stroke="#888" stroke-width="0.5" />
<polygon points="47.49,424.59 78.02,414.49 78.02,485.17 47.49,495.42" fill="#ffffff" stroke="#1a1a1a" stroke-width="1.5" stroke-linejoin="round"/>
<polygon points="52.72,441.04 74.53,432.66 74.53,446.43 52.72,454.36" fill="#ffffff" stroke="#1a1a1a" stroke-width="1.3" />
<path d="M51.23,458.25 L51.23,472.46" stroke="#1a1a1a" stroke-width="1.8" fill="none" />
<path d="M147.9,484.8 L147.9,410 L197.7,410 L197.7,484.8" stroke="#1a1a1a" stroke-width="1.2" fill="none" />
<path d="M152.08,484.8 L152.08,415.01 L193.82,415.01 L193.82,484.8" stroke="#1a1a1a" stroke-width="1.0" fill="none" />
<path d="M147.9,484.8 L152.08,484.8" stroke="#1a1a1a" stroke-width="1.0" fill="none" />
<path d="M193.82,484.8 L197.7,484.8" stroke="#1a1a1a" stroke-width="1.0" fill="none" />
<path d="M152.08,415.61 L164.33,415.61" stroke="#1a1a1a" stroke-width="1.6" fill="none" />
<rect x="163.84" y="415.21" width="5.48" height="2.4" rx="0" fill="#cfcfcf" stroke="#888" stroke-width="0.5" />
<polygon points="162.59,424.59 193.12,414.49 193.12,485.17 162.59,495.42" fill="#ffffff" stroke="#1a1a1a" stroke-width="1.5" stroke-linejoin="round"/>
<polygon points="167.82,441.04 189.63,432.66 189.63,446.43 167.82,454.36" fill="#ffffff" stroke="#1a1a1a" stroke-width="1.3" />
<path d="M166.33,458.25 L166.33,472.46" stroke="#1a1a1a" stroke-width="1.8" fill="none" />
<path d="M271.4,484.8 L271.4,410 L321.2,410 L321.2,484.8" stroke="#1a1a1a" stroke-width="1.2" fill="none" />
<path d="M275.58,484.8 L275.58,415.01 L317.32,415.01 L317.32,484.8" stroke="#1a1a1a" stroke-width="1.0" fill="none" />
<path d="M271.4,484.8 L275.58,484.8" stroke="#1a1a1a" stroke-width="1.0" fill="none" />
<path d="M317.32,484.8 L321.2,484.8" stroke="#1a1a1a" stroke-width="1.0" fill="none" />
<path d="M275.58,415.61 L287.83,415.61" stroke="#1a1a1a" stroke-width="1.6" fill="none" />
<rect x="287.34" y="415.21" width="5.48" height="2.4" rx="0" fill="#cfcfcf" stroke="#888" stroke-width="0.5" />
<polygon points="286.09,424.59 316.62,414.49 316.62,485.17 286.09,495.42" fill="#ffffff" stroke="#1a1a1a" stroke-width="1.5" stroke-linejoin="round"/>
<polygon points="291.32,441.04 313.13,432.66 313.13,446.43 291.32,454.36" fill="#ffffff" stroke="#1a1a1a" stroke-width="1.3" />
<path d="M289.83,458.25 L289.83,472.46" stroke="#1a1a1a" stroke-width="1.8" fill="none" />
<path d="M386.4,484.8 L386.4,410 L436.2,410 L436.2,484.8" stroke="#1a1a1a" stroke-width="1.2" fill="none" />
<path d="M390.58,484.8 L390.58,415.01 L432.32,415.01 L432.32,484.8" stroke="#1a1a1a" stroke-width="1.0" fill="none" />
<path d="M386.4,484.8 L390.58,484.8" stroke="#1a1a1a" stroke-width="1.0" fill="none" />
<path d="M432.32,484.8 L436.2,484.8" stroke="#1a1a1a" stroke-width="1.0" fill="none" />
<path d="M390.58,415.61 L402.83,415.61" stroke="#1a1a1a" stroke-width="1.6" fill="none" />
<rect x="402.34" y="415.21" width="5.48" height="2.4" rx="0" fill="#cfcfcf" stroke="#888" stroke-width="0.5" />
<polygon points="401.09,424.59 431.62,414.49 431.62,485.17 401.09,495.42" fill="#ffffff" stroke="#1a1a1a" stroke-width="1.5" stroke-linejoin="round"/>
<polygon points="406.32,441.04 428.13,432.66 428.13,446.43 406.32,454.36" fill="#ffffff" stroke="#1a1a1a" stroke-width="1.3" />
<path d="M404.83,458.25 L404.83,472.46" stroke="#1a1a1a" stroke-width="1.8" fill="none" />
<rect x="87.2" y="439.2" width="20.5" height="19.6" rx="2" fill="#f2f2f2" stroke="#9a9a9a" stroke-width="0.9" />
<rect x="88.84" y="441.94" width="17.22" height="14.5" rx="0.8" fill="#fafafa" stroke="#b0b0b0" stroke-width="0.6" />
<path d="M89.05,444.49 L105.86,444.49" stroke="#c8c8c8" stroke-width="0.6" fill="none" />
<polygon points="90.48,445.67 105.45,445.67 104.22,453.51 89.25,453.51" fill="#f6f6f6" stroke="#6a6a6a" stroke-width="0.7" />
<path d="M89.25,453.9 L104.22,453.9" stroke="#777" stroke-width="0.9" fill="none" />
<circle cx="94.78" cy="449.98" r="1.3" fill="none" stroke="#333" stroke-width="0.9"/>
<path d="M96.08,449.98 L100.28,449.98" stroke="#555" stroke-width="0.8" fill="none" />
<path d="M92.31,462.19L92.31,464.81M91.86,463.65L92.67,463.65M91.86,463.06L92.67,462.92M92.96,462.28L94.64,462.28M93.11,462.28L93.11,463.5M93.11,463.5L94.64,463.5M92.96,464.23L94.64,464.23M93.97,463.5L93.97,464.81M96.01,462.19L96.01,464.81M95.56,462.49L96.37,462.37M95.56,463.65L96.37,463.67M96.66,462.34L98.34,462.34M96.66,463.21L98.34,463.21M96.66,463.94L98.34,463.94M96.66,464.72L98.34,464.72M97.18,462.34L97.18,464.72M99.64,462.19L99.64,464.81M99.26,463.65L99.92,463.78M99.26,462.49L99.92,462.37M100.22,462.78L102.04,462.78M100.22,462.78L100.22,464.81M102.04,462.78L102.04,464.81M100.22,463.79L102.04,463.79M100.22,464.81L102.04,464.81M101.23,462.19L101.23,462.78M103.34,462.19L103.34,464.81M102.96,463.65L103.62,463.75M102.96,464.23L103.62,464.15M103.92,462.34L105.74,462.34M103.92,463.21L105.74,463.21M103.92,463.94L105.74,463.94M103.92,464.72L105.74,464.72M104.48,462.34L104.48,464.72" stroke="#666" stroke-width="0.5" fill="none"/>
<rect x="202" y="439.2" width="20.5" height="19.6" rx="2" fill="#f2f2f2" stroke="#9a9a9a" stroke-width="0.9" />
<rect x="203.64" y="441.94" width="17.22" height="14.5" rx="0.8" fill="#fafafa" stroke="#b0b0b0" stroke-width="0.6" />
<path d="M203.84,444.49 L220.66,444.49" stroke="#c8c8c8" stroke-width="0.6" fill="none" />
<polygon points="205.28,445.67 220.25,445.67 219.01,453.51 204.05,453.51" fill="#f6f6f6" stroke="#6a6a6a" stroke-width="0.7" />
<path d="M204.05,453.9 L219.01,453.9" stroke="#777" stroke-width="0.9" fill="none" />
<circle cx="209.59" cy="449.98" r="1.3" fill="none" stroke="#333" stroke-width="0.9"/>
<path d="M210.89,449.98 L215.09,449.98" stroke="#555" stroke-width="0.8" fill="none" />
<path d="M207.03,462.19L207.03,464.81M206.66,463.06L207.32,463.14M206.66,462.49L207.32,462.34M207.61,462.49L209.44,462.49M208.78,462.49L207.61,464.81M208.48,463.36L209.44,464.81M207.61,463.65L209.35,463.65M207.91,464.37L209.21,464.37M210.81,462.19L210.81,464.81M210.36,464.23L211.17,464.26M210.36,463.65L211.17,463.61M211.46,462.49L213.14,462.49M212.47,462.49L211.46,464.81M212.18,463.36L213.14,464.81M211.46,463.65L213.05,463.65M211.75,464.37L212.91,464.37M214.58,462.19L214.58,464.81M214.06,463.65L215.01,463.79M214.06,463.06L215.01,462.99M215.31,462.34L216.84,462.34M215.31,463.21L216.84,463.21M215.31,463.94L216.84,463.94M215.31,464.72L216.84,464.72M215.78,462.34L215.78,464.72M218.13,462.19L218.13,464.81M217.76,462.49L218.42,462.35M217.76,463.65L218.42,463.59M218.71,462.78L220.54,462.78M218.71,462.78L218.71,464.81M220.54,462.78L220.54,464.81M218.71,463.79L220.54,463.79M218.71,464.81L220.54,464.81M219.73,462.19L219.73,462.78" stroke="#666" stroke-width="0.5" fill="none"/>
<rect x="323.4" y="439.2" width="20.5" height="19.6" rx="2" fill="#f2f2f2" stroke="#9a9a9a" stroke-width="0.9" />
<rect x="325.04" y="441.94" width="17.22" height="14.5" rx="0.8" fill="#fafafa" stroke="#b0b0b0" stroke-width="0.6" />
<path d="M325.25,444.49 L342.05,444.49" stroke="#c8c8c8" stroke-width="0.6" fill="none" />
<polygon points="326.68,445.67 341.64,445.67 340.41,453.51 325.45,453.51" fill="#f6f6f6" stroke="#6a6a6a" stroke-width="0.7" />
<path d="M325.45,453.9 L340.41,453.9" stroke="#777" stroke-width="0.9" fill="none" />
<circle cx="330.98" cy="449.98" r="1.3" fill="none" stroke="#333" stroke-width="0.9"/>
<path d="M332.28,449.98 L336.48,449.98" stroke="#555" stroke-width="0.8" fill="none" />
<path d="M328.51,462.19L328.51,464.81M328.06,462.49L328.87,462.45M328.06,463.65L328.87,463.74M329.16,462.49L330.84,462.49M330.18,462.49L329.16,464.81M329.88,463.36L330.84,464.81M329.16,463.65L330.75,463.65M329.45,464.37L330.61,464.37M332.21,462.19L332.21,464.81M331.76,462.49L332.57,462.31M331.76,464.23L332.57,464.37M332.86,462.28L334.54,462.28M333,462.28L333,463.5M333,463.5L334.54,463.5M332.86,464.23L334.54,464.23M333.88,463.5L333.88,464.81M335.83,462.19L335.83,464.81M335.46,463.65L336.12,463.65M335.46,463.06L336.12,462.85M336.41,462.28L338.24,462.28M336.56,462.28L336.56,463.5M336.56,463.5L338.24,463.5M336.41,464.23L338.24,464.23M337.57,463.5L337.57,464.81M339.61,462.19L339.61,464.81M339.16,462.49L339.97,462.28M339.16,464.23L339.97,464.06M340.26,462.78L341.94,462.78M340.26,462.78L340.26,464.81M341.94,462.78L341.94,464.81M340.26,463.79L341.94,463.79M340.26,464.81L341.94,464.81M341.13,462.19L341.13,462.78" stroke="#666" stroke-width="0.5" fill="none"/>
<rect x="439.6" y="439.2" width="20.5" height="19.6" rx="2" fill="#f2f2f2" stroke="#9a9a9a" stroke-width="0.9" />
<rect x="441.24" y="441.94" width="17.22" height="14.5" rx="0.8" fill="#fafafa" stroke="#b0b0b0" stroke-width="0.6" />
<path d="M441.45,444.49 L458.25,444.49" stroke="#c8c8c8" stroke-width="0.6" fill="none" />
<polygon points="442.88,445.67 457.85,445.67 456.62,453.51 441.65,453.51" fill="#f6f6f6" stroke="#6a6a6a" stroke-width="0.7" />
<path d="M441.65,453.9 L456.62,453.9" stroke="#777" stroke-width="0.9" fill="none" />
<circle cx="447.19" cy="449.98" r="1.3" fill="none" stroke="#333" stroke-width="0.9"/>
<path d="M448.49,449.98 L452.69,449.98" stroke="#555" stroke-width="0.8" fill="none" />
<path d="M444.78,462.19L444.78,464.81M444.26,463.06L445.22,463.02M444.26,464.23L445.22,464.17M445.51,462.49L447.04,462.49M446.38,462.49L445.51,464.81M446.09,463.36L447.04,464.81M445.51,463.65L446.96,463.65M445.8,464.37L446.81,464.37M448.48,462.19L448.48,464.81M447.96,464.23L448.92,464M447.96,463.65L448.92,463.76M449.21,462.78L450.74,462.78M449.21,462.78L449.21,464.81M450.74,462.78L450.74,464.81M449.21,463.79L450.74,463.79M449.21,464.81L450.74,464.81M449.93,462.19L449.93,462.78M452.11,462.19L452.11,464.81M451.66,463.06L452.47,463.17M451.66,464.23L452.47,464.01M452.76,462.34L454.44,462.34M452.76,463.21L454.44,463.21M452.76,463.94L454.44,463.94M452.76,464.72L454.44,464.72M453.28,462.34L453.28,464.72M455.81,462.19L455.81,464.81M455.36,463.06L456.17,462.91M455.36,464.23L456.17,464.04M456.46,462.49L458.14,462.49M457.48,462.49L456.46,464.81M457.19,463.36L458.14,464.81M456.46,463.65L458.06,463.65M456.75,464.37L457.91,464.37" stroke="#666" stroke-width="0.5" fill="none"/>
<polygon points="705.7,282 705.7,216.2 518.6,216.2 518.6,442 526.2,442 526.2,223.1 699.5,223.1 699.5,282" fill="#000" stroke="none" stroke-width="0" fill-opacity="0.05"/>
<path d="M705.7,282 L705.7,216.2 L518.6,216.2 L518.6,442" stroke="#000" stroke-width="1.2" fill="none" stroke-opacity="0.16"/>
<path d="M704.2,282 L704.2,218.3 L521.1,218.3 L521.1,442" stroke="#000" stroke-width="1.2" fill="none" stroke-opacity="0.16"/>
<path d="M701.9,282 L701.9,220.9 L523.6,220.9 L523.6,442" stroke="#000" stroke-width="1.2" fill="none" stroke-opacity="0.16"/>
<path d="M699.5,282 L699.5,223.1 L526.2,223.1 L526.2,442" stroke="#000" stroke-width="1.2" fill="none" stroke-opacity="0.16"/>
<polygon points="715.4,290 715.4,227.9 593.9,227.9 593.9,443 596.1,443 596.1,230 713.6,230 713.6,290" fill="#000" stroke="none" stroke-width="0" fill-opacity="0.05"/>
<path d="M715.4,290 L715.4,227.9 L593.9,227.9 L593.9,443" stroke="#000" stroke-width="1.2" fill="none" stroke-opacity="0.16"/>
<path d="M713.6,290 L713.6,230 L596.1,230 L596.1,443" stroke="#000" stroke-width="1.2" fill="none" stroke-opacity="0.16"/>
<polygon points="730.3,300 730.3,236.4 622.8,236.4 622.8,442 630.2,442 630.2,243.8 723.5,243.8 723.5,300" fill="#000" stroke="none" stroke-width="0" fill-opacity="0.05"/>
<path d="M730.3,300 L730.3,236.4 L622.8,236.4 L622.8,442" stroke="#000" stroke-width="1.2" fill="none" stroke-opacity="0.16"/>
<path d="M727.9,300 L727.9,238.5 L625,238.5 L625,442" stroke="#000" stroke-width="1.2" fill="none" stroke-opacity="0.16"/>
<path d="M725.8,300 L725.8,241.2 L627.7,241.2 L627.7,442" stroke="#000" stroke-width="1.2" fill="none" stroke-opacity="0.16"/>
<path d="M723.5,300 L723.5,243.8 L630.2,243.8 L630.2,442" stroke="#000" stroke-width="1.2" fill="none" stroke-opacity="0.16"/>
<polygon points="736.8,306 736.8,249 634,249 634,397 700.5,397 700.5,443 703,443 703,394.3 636.8,394.3 636.8,251.8 734.4,251.8 734.4,306" fill="#000" stroke="none" stroke-width="0" fill-opacity="0.05"/>
<path d="M736.8,306 L736.8,249 L634,249 L634,397 L700.5,397 L700.5,443" stroke="#000" stroke-width="1.2" fill="none" stroke-opacity="0.16"/>
<path d="M734.4,306 L734.4,251.8 L636.8,251.8 L636.8,394.3 L703,394.3 L703,443" stroke="#000" stroke-width="1.2" fill="none" stroke-opacity="0.16"/>
<polygon points="765.1,335 765.1,269.9 909.7,269.9 909.7,401.6 846.4,401.6 846.4,442 840.4,442 840.4,393.8 902.65,393.8 902.65,276.11 770.95,276.11 770.95,335" fill="#000" stroke="none" stroke-width="0" fill-opacity="0.05"/>
<path d="M765.1,335 L765.1,269.9 L909.7,269.9 L909.7,401.6 L846.4,401.6 L846.4,442" stroke="#000" stroke-width="1.2" fill="none" stroke-opacity="0.16"/>
<path d="M767.05,335 L767.05,271.97 L907.35,271.97 L907.35,399 L844.4,399 L844.4,442" stroke="#000" stroke-width="1.2" fill="none" stroke-opacity="0.16"/>
<path d="M769,335 L769,274.04 L905,274.04 L905,396.4 L842.4,396.4 L842.4,442" stroke="#000" stroke-width="1.2" fill="none" stroke-opacity="0.16"/>
<path d="M770.95,335 L770.95,276.11 L902.65,276.11 L902.65,393.8 L840.4,393.8 L840.4,442" stroke="#000" stroke-width="1.2" fill="none" stroke-opacity="0.16"/>
<polygon points="774.2,340 774.2,280.5 917.5,280.5 917.5,444 915,444 915,283 776.8,283 776.8,340" fill="#000" stroke="none" stroke-width="0" fill-opacity="0.05"/>
<path d="M774.2,340 L774.2,280.5 L917.5,280.5 L917.5,444" stroke="#000" stroke-width="1.2" fill="none" stroke-opacity="0.16"/>
<path d="M776.8,340 L776.8,283 L915,283 L915,444" stroke="#000" stroke-width="1.2" fill="none" stroke-opacity="0.16"/>
<polygon points="741.7,317 741.7,286 796.2,286 796.2,406.5 746.6,406.5 746.6,442 740.6,442 740.6,401.7 790.2,401.7 790.2,292.51 749.5,292.51 749.5,317" fill="#000" stroke="none" stroke-width="0" fill-opacity="0.05"/>
<path d="M741.7,317 L741.7,286 L796.2,286 L796.2,406.5 L746.6,406.5 L746.6,442" stroke="#000" stroke-width="1.2" fill="none" stroke-opacity="0.16"/>
<path d="M744.3,317 L744.3,288.17 L794.2,288.17 L794.2,404.9 L744.6,404.9 L744.6,442" stroke="#000" stroke-width="1.2" fill="none" stroke-opacity="0.16"/>
<path d="M746.9,317 L746.9,290.34 L792.2,290.34 L792.2,403.3 L742.6,403.3 L742.6,442" stroke="#000" stroke-width="1.2" fill="none" stroke-opacity="0.16"/>
<path d="M749.5,317 L749.5,292.51 L790.2,292.51 L790.2,401.7 L740.6,401.7 L740.6,442" stroke="#000" stroke-width="1.2" fill="none" stroke-opacity="0.16"/>
<polygon points="754.7,323 754.7,298.4 814.4,298.4 814.4,444 811.8,444 811.8,300.3 757.3,300.3 757.3,323" fill="#000" stroke="none" stroke-width="0" fill-opacity="0.05"/>
<path d="M754.7,323 L754.7,298.4 L814.4,298.4 L814.4,444" stroke="#000" stroke-width="1.2" fill="none" stroke-opacity="0.16"/>
<path d="M757.3,323 L757.3,300.3 L811.8,300.3 L811.8,444" stroke="#000" stroke-width="1.2" fill="none" stroke-opacity="0.16"/>
<polygon points="745,375.3 866.4,375.3 866.4,320.9 870,320.9 870,314.4 858.3,314.4 858.3,370.4 745,370.4" fill="#000" stroke="none" stroke-width="0" fill-opacity="0.05"/>
<path d="M745,375.3 L866.4,375.3 L866.4,320.9 L870,320.9" stroke="#000" stroke-width="1.2" fill="none" stroke-opacity="0.16"/>
<path d="M745,373.6 L864,373.6 L864,318.4 L870,318.4" stroke="#000" stroke-width="1.2" fill="none" stroke-opacity="0.16"/>
<path d="M745,372 L860.7,372 L860.7,316 L870,316" stroke="#000" stroke-width="1.2" fill="none" stroke-opacity="0.16"/>
<path d="M745,370.4 L858.3,370.4 L858.3,314.4 L870,314.4" stroke="#000" stroke-width="1.2" fill="none" stroke-opacity="0.16"/>
<path d="M523.7,181.5 L509.5,181.5 L509.5,319.8 L662,319.8" stroke="#3a3a3a" stroke-width="1.5" fill="none" />
<path d="M523.7,185.4 L513.7,185.4 L513.7,316.6 L662,316.6" stroke="#e8404c" stroke-width="1.5" fill="none" />
<path d="M586,387.5 L742,387.5" stroke="#3a3a3a" stroke-width="1.5" fill="none" />
<path d="M586,391.1 L742,391.1" stroke="#e8404c" stroke-width="1.5" fill="none" />
<defs><linearGradient id="pbl" x1="0" y1="0" x2="1" y2="1"><stop offset="0" stop-color="#2c2c2c"/><stop offset="0.5" stop-color="#555555"/><stop offset="1" stop-color="#222222"/></linearGradient></defs>
<polygon points="526.6,364.3 534,350 554.6,370.6 554,387.5" fill="url(#pbl)" stroke="#0e0e0e" stroke-width="0.6" />
<circle cx="532.56" cy="359.58" r="1.2" fill="#bbb"/>
<polygon points="554.6,370.6 581,369 585.2,387 554,387.5" fill="#222" stroke="#101010" stroke-width="0.7" />
<polygon points="556.57,372.19 579.28,370.9 582.89,385.31 556.06,385.7" fill="#171717" stroke="#3a3a3a" stroke-width="0.5" />
<polygon points="554,387.5 585.2,387 585,392.5 554,392.8" fill="#141414" stroke="#0a0a0a" stroke-width="0.4" />
<polygon points="573,372 577.5,371.7 578,375 573.5,375.3" fill="#e8e2c8" stroke="none" stroke-width="1.0" />
<path d="M574,376 L575,381 L577,383" stroke="#b8a040" stroke-width="0.7" fill="none" />
<path d="M576,376 L578,380" stroke="#c0b050" stroke-width="0.6" fill="none" />
<path d="M556.53,397.81L556.53,402.59M555.71,400.47L557.19,400.72M555.71,398.35L557.19,398.54M557.72,397.97L560.79,397.97M557.99,397.97L557.99,400.2M557.99,400.2L560.79,400.2M557.72,401.53L560.79,401.53M559.58,400.2L559.58,402.59M563.56,397.81L563.56,402.59M562.61,400.47L564.36,400.23M562.61,401.53L564.36,401.69M564.88,398.08L567.69,398.08M564.88,399.67L567.69,399.67M564.88,401L567.69,401M564.88,402.43L567.69,402.43M565.76,398.08L565.76,402.43M570.19,397.81L570.19,402.59M569.51,398.35L570.73,398.57M569.51,399.41L570.73,399.66M571.25,398.35L574.59,398.35M573.38,398.35L571.25,402.59M572.85,399.94L574.59,402.59M571.25,400.47L574.43,400.47M571.78,401.79L574.17,401.79M577.1,397.81L577.1,402.59M576.41,400.47L577.63,400.52M576.41,401.53L577.63,401.5M578.16,398.08L581.49,398.08M578.16,399.67L581.49,399.67M578.16,401L581.49,401M578.16,402.43L581.49,402.43M579.19,398.08L579.19,402.43" stroke="#555" stroke-width="0.75" fill="none"/>
<rect x="532.98" y="161.26" width="20.93" height="8.34" rx="1.5" fill="#ececec" stroke="#9d9d9d" stroke-width="0.8" />
<rect x="532.98" y="198.2" width="20.93" height="6.88" rx="1.5" fill="#ececec" stroke="#9d9d9d" stroke-width="0.8" />
<rect x="537.72" y="163.83" width="11.45" height="2.2" rx="0" fill="#f4f4f4" stroke="#a5a5a5" stroke-width="0.6" />
<circle cx="535.35" cy="164.93" r="0.9" fill="none" stroke="#a5a5a5" stroke-width="0.5"/>
<circle cx="551.55" cy="164.93" r="0.9" fill="none" stroke="#a5a5a5" stroke-width="0.5"/>
<rect x="537.72" y="201.04" width="11.45" height="2.2" rx="0" fill="#f4f4f4" stroke="#a5a5a5" stroke-width="0.6" />
<circle cx="535.35" cy="202.14" r="0.9" fill="none" stroke="#a5a5a5" stroke-width="0.5"/>
<circle cx="551.55" cy="202.14" r="0.9" fill="none" stroke="#a5a5a5" stroke-width="0.5"/>
<rect x="562.7" y="177.78" width="2.8" height="11.32" rx="0" fill="#ececec" stroke="#9d9d9d" stroke-width="0.7" />
<rect x="523.7" y="168.6" width="39.5" height="30.6" rx="1.2" fill="#e9e9e9" stroke="#9a9a9a" stroke-width="0.9" />
<rect x="526.9" y="171.2" width="33.9" height="25.2" rx="0" fill="#dce5eb" stroke="#a9a9a9" stroke-width="0.8" />
<path d="M526.28,212.3L526.28,207.7L524.2,210.8L527,210.8M527.8,207.7h2.6v4.6h-2.6zM527.8,210h2.6M534,207.7h-2.6v2.3h2.6v2.3h-2.6" stroke="#333" stroke-width="0.9" fill="none"/>
<path d="M536.01,207.57L536.01,212.43M535.31,209.19L536.55,209.4M535.31,211.35L536.55,211.25M537.09,207.84L540.49,207.84M537.09,209.46L540.49,209.46M537.09,210.81L540.49,210.81M537.09,212.27L540.49,212.27M538.14,207.84L538.14,212.27M542.98,207.57L542.98,212.43M542.01,208.11L543.79,207.86M542.01,209.19L543.79,208.92M544.33,207.73L547.19,207.73M544.6,207.73L544.6,210M544.6,210L547.19,210M544.33,211.35L547.19,211.35M545.95,210L545.95,212.43M549.68,207.57L549.68,212.43M548.71,211.35L550.49,211.37M548.71,209.19L550.49,208.86M551.03,208.65L553.89,208.65M551.03,208.65L551.03,212.43M553.89,208.65L553.89,212.43M551.03,210.54L553.89,210.54M551.03,212.43L553.89,212.43M552.38,207.57L552.38,208.65M556.38,207.57L556.38,212.43M555.41,211.35L557.19,210.93M555.41,210.27L557.19,210.38M557.73,208.65L560.59,208.65M557.73,208.65L557.73,212.43M560.59,208.65L560.59,212.43M557.73,210.54L560.59,210.54M557.73,212.43L560.59,212.43M559.08,207.57L559.08,208.65M563.08,207.57L563.08,212.43M562.11,208.11L563.89,208.23M562.11,209.19L563.89,209.34M564.43,208.11L567.29,208.11M566.05,208.11L564.43,212.43M565.51,209.73L567.29,212.43M564.43,210.27L567.13,210.27M564.97,211.62L566.86,211.62" stroke="#3a3a3a" stroke-width="0.9" fill="none"/>
<path d="M579,185.4 L777.7,185.4" stroke="#151515" stroke-width="1.7" fill="none" />
<polygon points="573,185.4 581,181.9 579.8,185.4 581,188.9" fill="#151515" stroke="none" stroke-width="1.0" />
<rect x="844.2" y="141.3" width="31.2" height="72" rx="0" fill="#dedede" stroke="#8f8f8f" stroke-width="0.9" />
<rect x="846.7" y="143.5" width="25.9" height="66.6" rx="0" fill="#ffffff" stroke="#9a9a9a" stroke-width="0.7" />
<path d="M846.7,149.94 L872.6,149.94" stroke="#a0a0a0" stroke-width="0.7" fill="none" />
<path d="M846.7,152.46 L872.6,152.46" stroke="#a0a0a0" stroke-width="0.7" fill="none" />
<path d="M846.7,158.94 L872.6,158.94" stroke="#a0a0a0" stroke-width="0.7" fill="none" />
<path d="M846.7,160.38 L872.6,160.38" stroke="#a0a0a0" stroke-width="0.7" fill="none" />
<rect x="866.66" y="147.78" width="3.74" height="1.44" rx="0" fill="#aaa" stroke="none" stroke-width="1.0" />
<rect x="854.18" y="182.7" width="10.61" height="4.32" rx="0" fill="#fff" stroke="#888" stroke-width="0.6" />
<circle cx="859.49" cy="190.62" r="1.9" fill="#fff" stroke="#888" stroke-width="0.6"/>
<rect x="788" y="152.5" width="53.6" height="43.4" rx="0" fill="#ececec" stroke="#8c8c8c" stroke-width="0.9" />
<defs><linearGradient id="scr788" x1="0" y1="0" x2="1" y2="1"><stop offset="0" stop-color="#1d5c9c"/><stop offset="0.55" stop-color="#1583c8"/><stop offset="1" stop-color="#12a6ea"/></linearGradient></defs>
<rect x="791.1" y="156" width="47.8" height="35.1" rx="0" fill="url(#scr788)" stroke="#6a6a6a" stroke-width="0.5" />
<path d="M792.5,193.5 L795.5,193.5" stroke="#888" stroke-width="0.6" fill="none" />
<polygon points="810.3,195.9 818.6,195.9 819.3,199.5 825.3,202.1 804.3,202.1 810,199.5" fill="#1b1b1b" stroke="none" stroke-width="1.0" />
<polygon points="790.2,202.4 839,202.4 841.6,217.4 787.5,217.4" fill="#ededed" stroke="#8a8a8a" stroke-width="0.8" />
<rect x="792" y="205.4" width="8.4" height="2.1" rx="0" fill="#d6d6d6" stroke="#9a9a9a" stroke-width="0.4" />
<rect x="792" y="208.7" width="8.4" height="2.1" rx="0" fill="#d6d6d6" stroke="#9a9a9a" stroke-width="0.4" />
<rect x="792" y="212" width="8.4" height="2.1" rx="0" fill="#d6d6d6" stroke="#9a9a9a" stroke-width="0.4" />
<rect x="801.6" y="205.4" width="8.4" height="2.1" rx="0" fill="#d6d6d6" stroke="#9a9a9a" stroke-width="0.4" />
<rect x="801.6" y="208.7" width="8.4" height="2.1" rx="0" fill="#d6d6d6" stroke="#9a9a9a" stroke-width="0.4" />
<rect x="801.6" y="212" width="8.4" height="2.1" rx="0" fill="#d6d6d6" stroke="#9a9a9a" stroke-width="0.4" />
<rect x="811.2" y="205.4" width="8.4" height="2.1" rx="0" fill="#d6d6d6" stroke="#9a9a9a" stroke-width="0.4" />
<rect x="811.2" y="208.7" width="8.4" height="2.1" rx="0" fill="#d6d6d6" stroke="#9a9a9a" stroke-width="0.4" />
<rect x="811.2" y="212" width="8.4" height="2.1" rx="0" fill="#d6d6d6" stroke="#9a9a9a" stroke-width="0.4" />
<rect x="824.1" y="207.65" width="12.5" height="5.55" rx="0" fill="#fafafa" stroke="#8f8f8f" stroke-width="0.6" />
<path d="M806.23,221.61L806.23,226.38M805.41,225.32L806.89,225.25M805.41,223.2L806.89,223.19M807.42,222.67L810.49,222.67M807.42,222.67L807.42,226.38M810.49,222.67L810.49,226.38M807.42,224.53L810.49,224.53M807.42,226.38L810.49,226.38M809.01,221.61L809.01,222.67M812.96,221.61L812.96,226.38M812.01,225.32L813.75,225.32M812.01,224.26L813.75,223.97M814.28,221.77L817.09,221.77M814.55,221.77L814.55,224M814.55,224L817.09,224M814.28,225.32L817.09,225.32M815.88,224L815.88,226.38M819.43,221.61L819.43,226.38M818.61,223.2L820.09,223.15M818.61,222.14L820.09,222.33M820.62,221.88L823.69,221.88M820.62,223.47L823.69,223.47M820.62,224.79L823.69,224.79M820.62,226.23L823.69,226.23M821.57,221.88L821.57,226.23M826.16,221.61L826.16,226.38M825.21,225.32L826.95,225.35M825.21,223.2L826.95,223.21M827.48,222.67L830.29,222.67M827.48,222.67L827.48,226.38M830.29,222.67L830.29,226.38M827.48,224.53L830.29,224.53M827.48,226.38L830.29,226.38M828.81,221.61L828.81,222.67" stroke="#444" stroke-width="0.8" fill="none"/>
<path d="M877.74,178.68L877.74,181.92M877.27,181.2L878.1,181.11M877.27,180.48L878.1,180.32M878.46,179.4L880.73,179.4M878.46,179.4L878.46,181.92M880.73,179.4L880.73,181.92M878.46,180.66L880.73,180.66M878.46,181.92L880.73,181.92M879.72,178.68L879.72,179.4M882.03,178.68L882.03,181.92M881.47,179.76L882.48,179.72M881.47,180.48L882.48,180.56M882.84,178.86L884.93,178.86M882.84,179.94L884.93,179.94M882.84,180.84L884.93,180.84M882.84,181.81L884.93,181.81M883.49,178.86L883.49,181.81M886.23,178.68L886.23,181.92M885.67,181.2L886.68,180.98M885.67,179.04L886.68,179.1M887.04,179.4L889.13,179.4M887.04,179.4L887.04,181.92M889.13,179.4L889.13,181.92M887.04,180.66L889.13,180.66M887.04,181.92L889.13,181.92M888.12,178.68L888.12,179.4M890.52,178.68L890.52,181.92M889.87,179.04L891.06,179.22M889.87,179.76L891.06,179.82M891.42,178.79L893.33,178.79M891.6,178.79L891.6,180.3M891.6,180.3L893.33,180.3M891.42,181.2L893.33,181.2M892.5,180.3L892.5,181.92M894.72,178.68L894.72,181.92M894.07,181.2L895.26,181.36M894.07,179.04L895.26,179M895.62,178.86L897.53,178.86M895.62,179.94L897.53,179.94M895.62,180.84L897.53,180.84M895.62,181.81L897.53,181.81M896.21,178.86L896.21,181.81M898.92,178.68L898.92,181.92M898.27,180.48L899.46,180.26M898.27,179.04L899.46,179.13M899.82,178.86L901.73,178.86M899.82,179.94L901.73,179.94M899.82,180.84L901.73,180.84M899.82,181.81L901.73,181.81M900.41,178.86L900.41,181.81M902.94,178.68L902.94,181.92M902.47,181.2L903.3,181.17M902.47,179.04L903.3,178.91M903.66,178.79L905.93,178.79M903.84,178.79L903.84,180.3M903.84,180.3L905.93,180.3M903.66,181.2L905.93,181.2M905.1,180.3L905.1,181.92" stroke="#666" stroke-width="0.5" fill="none"/>
<path d="M877.2,184.5 L906.2,184.5" stroke="#a9a9a9" stroke-width="0.8" fill="none" />
<path d="M877.2,187.1 L906.2,187.1" stroke="#a9a9a9" stroke-width="0.8" fill="none" />
<defs><linearGradient id="usb907" x1="0" y1="0" x2="0" y2="1"><stop offset="0" stop-color="#cfcfcf"/><stop offset="1" stop-color="#f4f4f4"/></linearGradient></defs>
<rect x="907.6" y="168" width="19" height="29.2" rx="0" fill="#8d8d8d" stroke="#7a7a7a" stroke-width="0.6" />
<rect x="911" y="169.6" width="12.2" height="23.1" rx="1.2" fill="url(#usb907)" stroke="#b0b0b0" stroke-width="0.5" />
<polygon points="689.4,260.4 785.6,341.4 742.7,396.6 648.4,310.4" fill="#3d3199" stroke="#2c2278" stroke-width="0.7" />
<polygon points="689.14,268.66 711.22,287.41 707.07,292.55 685.03,273.68" fill="none" stroke="#c9c6f0" stroke-width="0.55" />
<path d="M691.22,272.98 L689.57,275" stroke="#e0def8" stroke-width="0.6" fill="none" />
<path d="M695.63,276.74 L693.98,278.77" stroke="#e0def8" stroke-width="0.6" fill="none" />
<path d="M700.05,280.5 L698.39,282.53" stroke="#e0def8" stroke-width="0.6" fill="none" />
<path d="M704.46,284.26 L702.8,286.3" stroke="#e0def8" stroke-width="0.6" fill="none" />
<polygon points="713.14,289.04 730.42,303.71 726.24,308.96 708.99,294.19" fill="none" stroke="#c9c6f0" stroke-width="0.55" />
<path d="M714.49,292.79 L712.82,294.86" stroke="#e0def8" stroke-width="0.6" fill="none" />
<path d="M717.94,295.73 L716.27,297.81" stroke="#e0def8" stroke-width="0.6" fill="none" />
<path d="M721.4,298.67 L719.73,300.75" stroke="#e0def8" stroke-width="0.6" fill="none" />
<path d="M724.85,301.61 L723.18,303.7" stroke="#e0def8" stroke-width="0.6" fill="none" />
<polygon points="732.34,305.34 749.63,320.02 745.4,325.37 728.15,310.6" fill="none" stroke="#c9c6f0" stroke-width="0.55" />
<path d="M733.68,309.13 L732,311.23" stroke="#e0def8" stroke-width="0.6" fill="none" />
<path d="M737.13,312.07 L735.45,314.18" stroke="#e0def8" stroke-width="0.6" fill="none" />
<path d="M740.59,315.01 L738.9,317.13" stroke="#e0def8" stroke-width="0.6" fill="none" />
<path d="M744.04,317.95 L742.35,320.08" stroke="#e0def8" stroke-width="0.6" fill="none" />
<polygon points="752.51,322.46 770.75,337.95 766.48,343.42 748.27,327.83" fill="none" stroke="#c9c6f0" stroke-width="0.55" />
<path d="M753.97,326.4 L752.28,328.55" stroke="#e0def8" stroke-width="0.6" fill="none" />
<path d="M757.62,329.5 L755.92,331.66" stroke="#e0def8" stroke-width="0.6" fill="none" />
<path d="M761.26,332.61 L759.56,334.78" stroke="#e0def8" stroke-width="0.6" fill="none" />
<path d="M764.91,335.71 L763.21,337.89" stroke="#e0def8" stroke-width="0.6" fill="none" />
<polygon points="709.24,297.9 720.73,307.77 717.8,311.42 706.33,301.51" fill="none" stroke="#b8b4ec" stroke-width="0.5" />
<path d="M708.95,300.27 L718.52,308.51" stroke="#d8d6f6" stroke-width="0.8" fill="none" />
<polygon points="728.39,314.35 739.88,324.22 736.92,327.95 725.45,318.03" fill="none" stroke="#b8b4ec" stroke-width="0.5" />
<path d="M728.09,316.75 L737.66,324.99" stroke="#d8d6f6" stroke-width="0.8" fill="none" />
<polygon points="749.88,331.9 761.37,341.77 758.39,345.58 746.91,335.67" fill="none" stroke="#b8b4ec" stroke-width="0.5" />
<path d="M749.56,334.34 L759.13,342.58" stroke="#d8d6f6" stroke-width="0.8" fill="none" />
<polygon points="692.96,283.91 704.45,293.78 701.55,297.38 690.08,287.47" fill="none" stroke="#b8b4ec" stroke-width="0.5" />
<path d="M692.68,286.26 L702.25,294.5" stroke="#d8d6f6" stroke-width="0.8" fill="none" />
<path d="M666.31,312.64 L668.68,314.78" stroke="#c8c6f0" stroke-width="0.7" fill="none" />
<path d="M671.99,317.77 L674.35,319.9" stroke="#c8c6f0" stroke-width="0.7" fill="none" />
<path d="M677.66,322.89 L680.03,325.02" stroke="#c8c6f0" stroke-width="0.7" fill="none" />
<path d="M683.34,328.01 L685.71,330.14" stroke="#c8c6f0" stroke-width="0.7" fill="none" />
<path d="M689.02,333.13 L691.38,335.27" stroke="#c8c6f0" stroke-width="0.7" fill="none" />
<path d="M694.69,338.25 L697.06,340.39" stroke="#c8c6f0" stroke-width="0.7" fill="none" />
<path d="M700.37,343.38 L702.74,345.51" stroke="#c8c6f0" stroke-width="0.7" fill="none" />
<path d="M706.05,348.5 L708.41,350.63" stroke="#c8c6f0" stroke-width="0.7" fill="none" />
<path d="M711.72,353.62 L714.09,355.76" stroke="#c8c6f0" stroke-width="0.7" fill="none" />
<path d="M717.4,358.74 L719.76,360.88" stroke="#c8c6f0" stroke-width="0.7" fill="none" />
<path d="M723.07,363.86 L725.44,366" stroke="#c8c6f0" stroke-width="0.7" fill="none" />
<path d="M728.75,368.99 L731.12,371.12" stroke="#c8c6f0" stroke-width="0.7" fill="none" />
<path d="M734.43,374.11 L736.79,376.24" stroke="#c8c6f0" stroke-width="0.7" fill="none" />
<path d="M740.1,379.23 L742.47,381.37" stroke="#c8c6f0" stroke-width="0.7" fill="none" />
<path d="M666.07,308.92 L746.55,381.3" stroke="#8f8ad8" stroke-width="0.5" fill="none" />
<circle cx="689.41" cy="266.34" r="1.2" fill="#ececf0" stroke="#9a98c8" stroke-width="0.4"/>
<circle cx="780.63" cy="342.87" r="1.2" fill="#ececf0" stroke="#9a98c8" stroke-width="0.4"/>
<circle cx="743.32" cy="390.2" r="1.2" fill="#ececf0" stroke="#9a98c8" stroke-width="0.4"/>
<circle cx="655.33" cy="307.97" r="1.2" fill="#ececf0" stroke="#9a98c8" stroke-width="0.4"/>
<polygon points="677.92,274.4 690.36,285.12 681.69,295.76 669.31,284.9" fill="#a8a8b4" stroke="#eeeeee" stroke-width="0.7" />
<polygon points="678.12,277.14 687.69,285.4 681.91,292.48 672.38,284.15" fill="#d6d6de" stroke="none" stroke-width="0.6" />
<polygon points="669.03,287.24 675.22,292.68 669.46,299.73 663.29,294.24" fill="#f2f2f2" stroke="#cccccc" stroke-width="0.4" />
<polygon points="676.04,291.67 678.42,293.76 672.66,300.83 670.28,298.72" fill="#e8e8ee" stroke="none" stroke-width="0.6" />
<circle cx="661.21" cy="299.59" r="1.7" fill="#e6e63a"/>
<circle cx="664.78" cy="303.65" r="1.5" fill="#3cc8d0"/>
<polygon points="667.59,305.04 669.49,306.73 667.01,309.77 665.12,308.06" fill="#f0a040" stroke="none" stroke-width="0.6" />
<polygon points="670.91,308.01 672.81,309.7 670.33,312.75 668.43,311.05" fill="#f0b050" stroke="none" stroke-width="0.6" />
<polygon points="674.23,310.98 676.12,312.67 673.64,315.73 671.75,314.03" fill="#e8a040" stroke="none" stroke-width="0.6" />
<polygon points="677.54,313.95 679.44,315.64 676.96,318.71 675.06,317.01" fill="#a8e040" stroke="none" stroke-width="0.6" />
<polygon points="683.19,297.94 685.09,299.61 680.96,304.7 679.06,303.02" fill="#7ad8d0" stroke="none" stroke-width="0.6" />
<polygon points="686.52,300.87 688.43,302.54 684.29,307.64 682.39,305.96" fill="#7ad8d0" stroke="none" stroke-width="0.6" />
<polygon points="687.37,304.24 698.42,313.95 690.93,323.26 679.92,313.43" fill="#4e4e5c" stroke="#c8c8d8" stroke-width="0.5" />
<polygon points="687.85,307.28 695.46,313.99 690.47,320.18 682.87,313.42" fill="#62626f" stroke="none" stroke-width="0.6" />
<polygon points="695.75,311.61 699.08,314.54 691.17,324.37 687.86,321.4" fill="#b8b8c8" stroke="none" stroke-width="0.6" />
<path d="M688.09,311.01 L691.89,314.37" stroke="#d8d8e4" stroke-width="0.6" fill="none" />
<polygon points="701.65,318.83 712.68,328.56 705.14,338.01 694.14,328.18" fill="#4e4e5c" stroke="#c8c8d8" stroke-width="0.5" />
<polygon points="702.11,321.9 709.71,328.62 704.69,334.91 697.1,328.14" fill="#62626f" stroke="none" stroke-width="0.6" />
<polygon points="710.02,326.21 713.35,329.15 705.38,339.13 702.07,336.16" fill="#b8b8c8" stroke="none" stroke-width="0.6" />
<path d="M702.34,325.67 L706.14,329.04" stroke="#d8d8e4" stroke-width="0.6" fill="none" />
<polygon points="716.35,331.08 727.39,340.8 719.79,350.39 708.79,340.56" fill="#4e4e5c" stroke="#c8c8d8" stroke-width="0.5" />
<polygon points="716.8,334.17 724.41,340.89 719.35,347.27 711.76,340.5" fill="#62626f" stroke="none" stroke-width="0.6" />
<polygon points="724.72,338.45 728.06,341.39 720.03,351.52 716.72,348.55" fill="#b8b8c8" stroke="none" stroke-width="0.6" />
<path d="M717.02,337.96 L720.82,341.33" stroke="#d8d8e4" stroke-width="0.6" fill="none" />
<polygon points="731.72,345.53 742.76,355.26 735.11,365.01 724.11,355.17" fill="#4e4e5c" stroke="#c8c8d8" stroke-width="0.5" />
<polygon points="732.17,348.65 739.77,355.37 734.68,361.86 727.09,355.09" fill="#62626f" stroke="none" stroke-width="0.6" />
<polygon points="740.1,352.91 743.43,355.85 735.35,366.14 732.03,363.17" fill="#b8b8c8" stroke="none" stroke-width="0.6" />
<path d="M732.37,352.48 L736.17,355.85" stroke="#d8d8e4" stroke-width="0.6" fill="none" />
<circle cx="691.51" cy="328.41" r="1.6" fill="#98e040"/>
<circle cx="706.84" cy="342.6" r="1.6" fill="#98e040"/>
<circle cx="722.22" cy="356.95" r="1.6" fill="#98e040"/>
<circle cx="739.21" cy="371.09" r="1.6" fill="#98e040"/>
<polygon points="713.74,311.44 723.77,320.14 717.06,328.56 707.06,319.78" fill="#3c3c48" stroke="#b8b8c8" stroke-width="0.6" />
<polygon points="714.4,314.66 720.6,320.06 716.41,325.31 710.22,319.89" fill="#484856" stroke="none" stroke-width="0.6" />
<polygon points="689.57,295.7 693.77,299.36 690.46,303.45 686.27,299.77" fill="#2a2a34" stroke="none" stroke-width="0.6" />
<polygon points="701.23,295.36 705.44,298.99 702.12,303.11 697.91,299.47" fill="#c8c8dc" stroke="none" stroke-width="0.6" />
<polygon points="702.27,304.13 706.47,307.78 703.14,311.92 698.95,308.25" fill="#b8b8d0" stroke="none" stroke-width="0.6" />
<polygon points="689.47,287.81 693.68,291.44 690.37,295.52 686.17,291.87" fill="#2e2e38" stroke="none" stroke-width="0.6" />
<polygon points="724.23,323.21 728.43,326.86 725.07,331.1 720.87,327.43" fill="#c0c0d8" stroke="none" stroke-width="0.6" />
<polygon points="727.54,333.27 731.74,336.94 728.36,341.2 724.17,337.52" fill="#b8b8d0" stroke="none" stroke-width="0.6" />
<polygon points="738.96,327.01 743.17,330.63 739.78,334.92 735.58,331.27" fill="#c4c4dc" stroke="none" stroke-width="0.6" />
<path d="M701.45,289.47 L709.11,296.04" stroke="#d0ccf4" stroke-width="0.9" fill="none" stroke-dasharray="0.8,0.5"/>
<path d="M728.27,312.47 L737.85,320.69" stroke="#d0ccf4" stroke-width="0.9" fill="none" stroke-dasharray="0.8,0.5"/>
<path d="M749.34,330.54 L758.92,338.76" stroke="#d0ccf4" stroke-width="0.9" fill="none" stroke-dasharray="0.8,0.5"/>
<path d="M696.64,311.51 L704.26,318.21" stroke="#d0ccf4" stroke-width="0.9" fill="none" stroke-dasharray="0.8,0.5"/>
<path d="M723.94,338.22 L733.46,346.6" stroke="#d0ccf4" stroke-width="0.9" fill="none" stroke-dasharray="0.8,0.5"/>
<path d="M740.34,348.1 L747.96,354.79" stroke="#d0ccf4" stroke-width="0.9" fill="none" stroke-dasharray="0.8,0.5"/>
<path d="M674.93,308.1 L681.57,314.02" stroke="#d0ccf4" stroke-width="0.9" fill="none" stroke-dasharray="0.8,0.5"/>
<path d="M745.7,363.83 L751.4,368.89" stroke="#d0ccf4" stroke-width="0.9" fill="none" stroke-dasharray="0.8,0.5"/>
<circle cx="745.33" cy="344.82" r="2.4" fill="#202020"/>
<circle cx="737.48" cy="345.59" r="1.6" fill="#d0d0d8"/>
<polygon points="754.55,350.47 762.19,357.12 756.63,364.24 749.01,357.55" fill="#c8c8c8" stroke="#f0f0f0" stroke-width="0.5" />
<circle cx="756.43" cy="368.61" r="1.8" fill="#f07028"/>
<circle cx="766.23" cy="356.86" r="1.8" fill="#f07028"/>
<circle cx="769.33" cy="354.11" r="1.5" fill="#a0e040"/>
<circle cx="772.17" cy="351.49" r="1.5" fill="#40c8e0"/>
<polygon points="773.63,340.4 779.39,345.29 775.1,350.8 769.35,345.88" fill="#f0f0f0" stroke="none" stroke-width="0.6" />
<polygon points="699.55,257.92 711.13,267.56 702.45,278.24 690.92,268.47" fill="#262626" stroke="#111" stroke-width="0.5" />
<polygon points="697.45,261.49 708.04,270.36 702.66,276.98 692.09,268.03" fill="#3c3c3c" stroke="none" stroke-width="0.6" />
<circle cx="699.35" cy="261.13" r="0.8" fill="#e8d44a"/>
<circle cx="702.25" cy="263.55" r="0.8" fill="#e8d44a"/>
<circle cx="705.14" cy="265.97" r="0.8" fill="#e8d44a"/>
<circle cx="708.03" cy="268.38" r="0.8" fill="#e8d44a"/>
<polygon points="707.96,273.45 714.69,279.11 708.06,287.32 701.34,281.6" fill="#262626" stroke="#111" stroke-width="0.5" />
<polygon points="706.45,276.3 712.22,281.17 708.11,286.25 702.35,281.36" fill="#3c3c3c" stroke="none" stroke-width="0.6" />
<circle cx="708.4" cy="276.4" r="0.8" fill="#e8d44a"/>
<circle cx="711.77" cy="279.23" r="0.8" fill="#e8d44a"/>
<polygon points="722.7,277.19 740.06,291.65 731.26,302.67 713.97,288.01" fill="#262626" stroke="#111" stroke-width="0.5" />
<polygon points="720.56,280.84 736.94,294.55 731.49,301.38 715.15,287.55" fill="#3c3c3c" stroke="none" stroke-width="0.6" />
<circle cx="722.48" cy="280.46" r="0.8" fill="#e8d44a"/>
<circle cx="725.37" cy="282.88" r="0.8" fill="#e8d44a"/>
<circle cx="728.27" cy="285.29" r="0.8" fill="#e8d44a"/>
<circle cx="731.16" cy="287.71" r="0.8" fill="#e8d44a"/>
<circle cx="734.05" cy="290.13" r="0.8" fill="#e8d44a"/>
<circle cx="736.94" cy="292.54" r="0.8" fill="#e8d44a"/>
<polygon points="741.99,293.26 759.35,307.72 750.47,318.95 733.18,304.29" fill="#262626" stroke="#111" stroke-width="0.5" />
<polygon points="739.83,296.97 756.2,310.68 750.7,317.64 734.37,303.82" fill="#3c3c3c" stroke="none" stroke-width="0.6" />
<circle cx="741.76" cy="296.57" r="0.8" fill="#e8d44a"/>
<circle cx="744.65" cy="298.98" r="0.8" fill="#e8d44a"/>
<circle cx="747.54" cy="301.4" r="0.8" fill="#e8d44a"/>
<circle cx="750.43" cy="303.82" r="0.8" fill="#e8d44a"/>
<circle cx="753.32" cy="306.23" r="0.8" fill="#e8d44a"/>
<circle cx="756.21" cy="308.65" r="0.8" fill="#e8d44a"/>
<polygon points="762.24,310.13 780.57,325.39 771.6,336.86 753.35,321.39" fill="#262626" stroke="#111" stroke-width="0.5" />
<polygon points="760.06,313.91 777.4,328.43 771.84,335.54 754.55,320.9" fill="#3c3c3c" stroke="none" stroke-width="0.6" />
<circle cx="762.08" cy="313.55" r="0.8" fill="#e8d44a"/>
<circle cx="765.13" cy="316.1" r="0.8" fill="#e8d44a"/>
<circle cx="768.18" cy="318.65" r="0.8" fill="#e8d44a"/>
<circle cx="771.23" cy="321.2" r="0.8" fill="#e8d44a"/>
<circle cx="774.28" cy="323.75" r="0.8" fill="#e8d44a"/>
<circle cx="777.33" cy="326.3" r="0.8" fill="#e8d44a"/>
<polygon points="657.51,307.32 744.97,386.43 735.97,397.98 648.89,317.86" fill="#34342c" stroke="#1a1a16" stroke-width="0.5" />
<polygon points="655.52,310.76 741.93,389.3 736.36,396.45 650.18,317.29" fill="#45453a" stroke="none" stroke-width="0.6" />
<path d="M672.07,320.49 L663.38,331.2" stroke="#22221c" stroke-width="0.6" fill="none" />
<path d="M686.63,333.66 L677.88,344.54" stroke="#22221c" stroke-width="0.6" fill="none" />
<path d="M701.19,346.83 L692.38,357.88" stroke="#22221c" stroke-width="0.6" fill="none" />
<path d="M715.75,360 L706.88,371.22" stroke="#22221c" stroke-width="0.6" fill="none" />
<path d="M730.31,373.17 L721.38,384.56" stroke="#22221c" stroke-width="0.6" fill="none" />
<circle cx="652.15" cy="316.9" r="0.8" fill="#d8d44a"/>
<circle cx="654.71" cy="319.25" r="0.8" fill="#d8d44a"/>
<circle cx="657.27" cy="321.6" r="0.8" fill="#d8d44a"/>
<circle cx="659.84" cy="323.95" r="0.8" fill="#d8d44a"/>
<circle cx="662.4" cy="326.3" r="0.8" fill="#d8d44a"/>
<circle cx="664.96" cy="328.65" r="0.8" fill="#d8d44a"/>
<circle cx="667.53" cy="331" r="0.8" fill="#d8d44a"/>
<circle cx="670.09" cy="333.35" r="0.8" fill="#d8d44a"/>
<circle cx="672.65" cy="335.7" r="0.8" fill="#d8d44a"/>
<circle cx="675.22" cy="338.05" r="0.8" fill="#d8d44a"/>
<circle cx="677.78" cy="340.4" r="0.8" fill="#d8d44a"/>
<circle cx="680.34" cy="342.75" r="0.8" fill="#d8d44a"/>
<circle cx="682.91" cy="345.1" r="0.8" fill="#d8d44a"/>
<circle cx="685.47" cy="347.45" r="0.8" fill="#d8d44a"/>
<circle cx="688.03" cy="349.8" r="0.8" fill="#d8d44a"/>
<circle cx="690.6" cy="352.14" r="0.8" fill="#d8d44a"/>
<circle cx="693.16" cy="354.49" r="0.8" fill="#d8d44a"/>
<circle cx="695.72" cy="356.84" r="0.8" fill="#d8d44a"/>
<circle cx="698.28" cy="359.19" r="0.8" fill="#d8d44a"/>
<circle cx="700.85" cy="361.54" r="0.8" fill="#d8d44a"/>
<circle cx="703.41" cy="363.89" r="0.8" fill="#d8d44a"/>
<circle cx="705.97" cy="366.24" r="0.8" fill="#d8d44a"/>
<circle cx="708.54" cy="368.59" r="0.8" fill="#d8d44a"/>
<circle cx="711.1" cy="370.94" r="0.8" fill="#d8d44a"/>
<circle cx="713.66" cy="373.29" r="0.8" fill="#d8d44a"/>
<circle cx="716.23" cy="375.64" r="0.8" fill="#d8d44a"/>
<circle cx="718.79" cy="377.99" r="0.8" fill="#d8d44a"/>
<circle cx="721.35" cy="380.34" r="0.8" fill="#d8d44a"/>
<circle cx="723.92" cy="382.69" r="0.8" fill="#d8d44a"/>
<circle cx="726.48" cy="385.04" r="0.8" fill="#d8d44a"/>
<circle cx="729.04" cy="387.39" r="0.8" fill="#d8d44a"/>
<circle cx="731.61" cy="389.74" r="0.8" fill="#d8d44a"/>
<circle cx="734.17" cy="392.09" r="0.8" fill="#d8d44a"/>
<circle cx="736.73" cy="394.44" r="0.8" fill="#d8d44a"/>
<path d="M540.9,417 L540.9,341 L677.5,341" stroke="#30b3e8" stroke-width="1.35" fill="none" />
<path d="M544,417 L544,344 L679.5,344" stroke="#30b3e8" stroke-width="1.35" fill="none" />
<path d="M649.7,417 L649.7,352.4 L690.5,352.4" stroke="#30b3e8" stroke-width="1.35" fill="none" />
<path d="M652.8,417 L652.8,355.5 L692.5,355.5" stroke="#30b3e8" stroke-width="1.35" fill="none" />
<path d="M705.8,365 L705.8,418.7 L759,418.7" stroke="#30b3e8" stroke-width="1.35" fill="none" />
<path d="M708.3,366.5 L708.3,416.5 L759,416.5" stroke="#30b3e8" stroke-width="1.35" fill="none" />
<path d="M722.8,381.8 L863.2,381.8 L863.2,417" stroke="#30b3e8" stroke-width="1.35" fill="none" />
<path d="M722.8,383.5 L861.5,383.5 L861.5,417" stroke="#30b3e8" stroke-width="1.35" fill="none" />
<path d="M878,327.4 L898,327.4 L898,377 L893,377" stroke="#f08a60" stroke-width="0.9" fill="none" />
<path d="M878,330 L894.5,330 L894.5,372" stroke="#a0a0a0" stroke-width="0.7" fill="none" />
<rect x="869.1" y="300.6" width="6.2" height="67.4" rx="0" fill="#262648" stroke="#181830" stroke-width="0.5" />
<rect x="869.6" y="305" width="2.2" height="3" fill="#3030a8"/>
<rect x="869.6" y="312" width="2.2" height="3" fill="#3030a8"/>
<rect x="869.6" y="320" width="2.2" height="3" fill="#3030a8"/>
<rect x="869.6" y="330" width="2.2" height="3" fill="#3030a8"/>
<rect x="869.6" y="340" width="2.2" height="3" fill="#3030a8"/>
<rect x="869.6" y="352" width="2.2" height="3" fill="#3030a8"/>
<rect x="869.6" y="362" width="2.2" height="3" fill="#3030a8"/>
<rect x="872.5" y="301.4" width="6.9" height="8.9" rx="0" fill="#1c1c1c" stroke="none" stroke-width="1.0" />
<rect x="872.5" y="326.5" width="6.9" height="6.5" rx="0" fill="#1c1c1c" stroke="none" stroke-width="1.0" />
<rect x="872.5" y="337" width="6.9" height="5.8" rx="0" fill="#1c1c1c" stroke="none" stroke-width="1.0" />
<rect x="872.5" y="348.5" width="6.9" height="5.7" rx="0" fill="#1c1c1c" stroke="none" stroke-width="1.0" />
<rect x="872.5" y="358.2" width="6.9" height="5.7" rx="0" fill="#1c1c1c" stroke="none" stroke-width="1.0" />
<circle cx="871" cy="316" r="0.6" fill="#e0d040"/>
<circle cx="871" cy="322" r="0.6" fill="#e0d040"/>
<circle cx="871" cy="345" r="0.6" fill="#e0d040"/>
<circle cx="871" cy="356" r="0.6" fill="#e0d040"/>
<rect x="869.5" y="315" width="2.5" height="3" rx="0" fill="#d03030" stroke="none" stroke-width="1.0" />
<path d="M846.3,301.55L846.3,306.05M845.4,305.05L847.05,305.01M845.4,303.05L847.05,302.9M847.55,301.8L850.2,301.8M847.55,303.3L850.2,303.3M847.55,304.55L850.2,304.55M847.55,305.9L850.2,305.9M848.38,301.8L848.38,305.9M851.85,301.55L851.85,306.05M851.2,303.05L852.35,303.09M851.2,305.05L852.35,305.2M852.85,301.8L856,301.8M852.85,303.3L856,303.3M852.85,304.55L856,304.55M852.85,305.9L856,305.9M853.82,301.8L853.82,305.9M857.77,301.55L857.77,306.05M857,304.05L858.4,303.88M857,305.05L858.4,304.85M858.9,302.55L861.8,302.55M858.9,302.55L858.9,306.05M861.8,302.55L861.8,306.05M858.9,304.3L861.8,304.3M858.9,306.05L861.8,306.05M860.4,301.55L860.4,302.55M863.7,301.55L863.7,306.05M862.8,302.05L864.45,301.98M862.8,305.05L864.45,304.84M864.95,302.55L867.6,302.55M864.95,302.55L864.95,306.05M867.6,302.55L867.6,306.05M864.95,304.3L867.6,304.3M864.95,306.05L867.6,306.05M866.2,301.55L866.2,302.55" stroke="#444" stroke-width="0.7" fill="none"/>
<defs><linearGradient id="sir" x1="0" y1="0" x2="1" y2="0"><stop offset="0" stop-color="#f06040"/><stop offset="0.12" stop-color="#ffd8c8"/><stop offset="0.5" stop-color="#ffffff"/><stop offset="0.8" stop-color="#ffd0c0"/><stop offset="0.92" stop-color="#e83010"/><stop offset="1" stop-color="#f06040"/></linearGradient></defs>
<path d="M881,373 L881,361 Q881,356.6 887,356.6 Q893.2,356.6 893.2,361 L893.2,373 Z" fill="url(#sir)" stroke="#d03818" stroke-width="0.8"/>
<rect x="880.2" y="372.8" width="14.6" height="6.5" rx="0" fill="#f6f6f6" stroke="#9a9a9a" stroke-width="0.6" />
<path d="M867.15,381.65L867.15,386.15M866.5,385.15L867.65,384.94M866.5,384.15L867.65,384.29M868.15,382.65L871.3,382.65M868.15,382.65L868.15,386.15M871.3,382.65L871.3,386.15M868.15,384.4L871.3,384.4M868.15,386.15L871.3,386.15M869.9,381.65L869.9,382.65M873.35,381.65L873.35,386.15M872.7,384.15L873.85,384.25M872.7,382.15L873.85,381.77M874.35,381.8L877.5,381.8M874.6,381.8L874.6,383.9M874.6,383.9L877.5,383.9M874.35,385.15L877.5,385.15M876.35,383.9L876.35,386.15M879.8,381.65L879.8,386.15M878.9,382.15L880.55,381.95M878.9,385.15L880.55,385.3M881.05,381.9L883.7,381.9M881.05,383.4L883.7,383.4M881.05,384.65L883.7,384.65M881.05,386L883.7,386M881.88,381.9L881.88,386M885.88,381.65L885.88,386.15M885.1,382.15L886.5,381.96M885.1,384.15L886.5,383.98M887,381.8L889.9,381.8M887.25,381.8L887.25,383.9M887.25,383.9L889.9,383.9M887,385.15L889.9,385.15M888.75,383.9L888.75,386.15M891.95,381.65L891.95,386.15M891.3,385.15L892.45,385.29M891.3,382.15L892.45,381.91M892.95,382.15L896.1,382.15M894.95,382.15L892.95,386.15M894.45,383.65L896.1,386.15M892.95,384.15L895.95,384.15M893.45,385.4L895.7,385.4" stroke="#444" stroke-width="0.7" fill="none"/>
<path d="M534.3,490 L534.3,412 L579.7,412 L579.7,490" stroke="#1a1a1a" stroke-width="1.2" fill="none" />
<path d="M538.11,490 L538.11,417.23 L576.16,417.23 L576.16,490" stroke="#1a1a1a" stroke-width="1.0" fill="none" />
<path d="M534.3,490 L538.11,490" stroke="#1a1a1a" stroke-width="1.0" fill="none" />
<path d="M576.16,490 L579.7,490" stroke="#1a1a1a" stroke-width="1.0" fill="none" />
<path d="M538.11,417.83 L549.28,417.83" stroke="#1a1a1a" stroke-width="1.6" fill="none" />
<rect x="548.83" y="417.43" width="4.99" height="2.4" rx="0" fill="#cfcfcf" stroke="#888" stroke-width="0.5" />
<polygon points="547.69,427.21 575.52,416.68 575.52,490.39 547.69,501.08" fill="#ffffff" stroke="#1a1a1a" stroke-width="1.5" stroke-linejoin="round"/>
<polygon points="552.46,444.37 572.35,435.63 572.35,449.99 552.46,458.25" fill="#ffffff" stroke="#1a1a1a" stroke-width="1.3" />
<path d="M551.1,462.31 L551.1,477.13" stroke="#1a1a1a" stroke-width="1.8" fill="none" />
<path d="M639.4,490 L639.4,412 L684.8,412 L684.8,490" stroke="#1a1a1a" stroke-width="1.2" fill="none" />
<path d="M643.21,490 L643.21,417.23 L681.26,417.23 L681.26,490" stroke="#1a1a1a" stroke-width="1.0" fill="none" />
<path d="M639.4,490 L643.21,490" stroke="#1a1a1a" stroke-width="1.0" fill="none" />
<path d="M681.26,490 L684.8,490" stroke="#1a1a1a" stroke-width="1.0" fill="none" />
<path d="M643.21,417.83 L654.38,417.83" stroke="#1a1a1a" stroke-width="1.6" fill="none" />
<rect x="653.93" y="417.43" width="4.99" height="2.4" rx="0" fill="#cfcfcf" stroke="#888" stroke-width="0.5" />
<polygon points="652.79,427.21 680.62,416.68 680.62,490.39 652.79,501.08" fill="#ffffff" stroke="#1a1a1a" stroke-width="1.5" stroke-linejoin="round"/>
<polygon points="657.56,444.37 677.45,435.63 677.45,449.99 657.56,458.25" fill="#ffffff" stroke="#1a1a1a" stroke-width="1.3" />
<path d="M656.2,462.31 L656.2,477.13" stroke="#1a1a1a" stroke-width="1.8" fill="none" />
<path d="M752,490 L752,412 L797.4,412 L797.4,490" stroke="#1a1a1a" stroke-width="1.2" fill="none" />
<path d="M755.81,490 L755.81,417.23 L793.86,417.23 L793.86,490" stroke="#1a1a1a" stroke-width="1.0" fill="none" />
<path d="M752,490 L755.81,490" stroke="#1a1a1a" stroke-width="1.0" fill="none" />
<path d="M793.86,490 L797.4,490" stroke="#1a1a1a" stroke-width="1.0" fill="none" />
<path d="M755.81,417.83 L766.98,417.83" stroke="#1a1a1a" stroke-width="1.6" fill="none" />
<rect x="766.53" y="417.43" width="4.99" height="2.4" rx="0" fill="#cfcfcf" stroke="#888" stroke-width="0.5" />
<polygon points="765.39,427.21 793.22,416.68 793.22,490.39 765.39,501.08" fill="#ffffff" stroke="#1a1a1a" stroke-width="1.5" stroke-linejoin="round"/>
<polygon points="770.16,444.37 790.05,435.63 790.05,449.99 770.16,458.25" fill="#ffffff" stroke="#1a1a1a" stroke-width="1.3" />
<path d="M768.8,462.31 L768.8,477.13" stroke="#1a1a1a" stroke-width="1.8" fill="none" />
<path d="M856.3,490 L856.3,412 L901.7,412 L901.7,490" stroke="#1a1a1a" stroke-width="1.2" fill="none" />
<path d="M860.11,490 L860.11,417.23 L898.16,417.23 L898.16,490" stroke="#1a1a1a" stroke-width="1.0" fill="none" />
<path d="M856.3,490 L860.11,490" stroke="#1a1a1a" stroke-width="1.0" fill="none" />
<path d="M898.16,490 L901.7,490" stroke="#1a1a1a" stroke-width="1.0" fill="none" />
<path d="M860.11,417.83 L871.28,417.83" stroke="#1a1a1a" stroke-width="1.6" fill="none" />
<rect x="870.83" y="417.43" width="4.99" height="2.4" rx="0" fill="#cfcfcf" stroke="#888" stroke-width="0.5" />
<polygon points="869.69,427.21 897.52,416.68 897.52,490.39 869.69,501.08" fill="#ffffff" stroke="#1a1a1a" stroke-width="1.5" stroke-linejoin="round"/>
<polygon points="874.46,444.37 894.35,435.63 894.35,449.99 874.46,458.25" fill="#ffffff" stroke="#1a1a1a" stroke-width="1.3" />
<path d="M873.1,462.31 L873.1,477.13" stroke="#1a1a1a" stroke-width="1.8" fill="none" />
<rect x="584.5" y="442.6" width="18.7" height="21.2" rx="2" fill="#f2f2f2" stroke="#9a9a9a" stroke-width="0.9" />
<rect x="586" y="445.57" width="15.71" height="15.69" rx="0.8" fill="#fafafa" stroke="#b0b0b0" stroke-width="0.6" />
<path d="M586.18,448.32 L601.52,448.32" stroke="#c8c8c8" stroke-width="0.6" fill="none" />
<polygon points="587.49,449.6 601.14,449.6 600.02,458.08 586.37,458.08" fill="#f6f6f6" stroke="#6a6a6a" stroke-width="0.7" />
<path d="M586.37,458.5 L600.02,458.5" stroke="#777" stroke-width="0.9" fill="none" />
<circle cx="591.42" cy="454.26" r="1.3" fill="none" stroke="#333" stroke-width="0.9"/>
<path d="M592.72,454.26 L596.92,454.26" stroke="#555" stroke-width="0.8" fill="none" />
<path d="M588.41,466.19L588.41,468.81M587.96,467.65L588.77,467.47M587.96,468.23L588.77,468.08M589.06,466.28L590.74,466.28M589.2,466.28L589.2,467.5M589.2,467.5L590.74,467.5M589.06,468.23L590.74,468.23M590.07,467.5L590.07,468.81M592.11,466.19L592.11,468.81M591.66,467.65L592.47,467.71M591.66,466.49L592.47,466.58M592.76,466.78L594.44,466.78M592.76,466.78L592.76,468.81M594.44,466.78L594.44,468.81M592.76,467.79L594.44,467.79M592.76,468.81L594.44,468.81M593.63,466.19L593.63,466.78M595.73,466.19L595.73,468.81M595.36,468.23L596.02,468.08M595.36,466.49L596.02,466.55M596.31,466.34L598.14,466.34M596.31,467.21L598.14,467.21M596.31,467.94L598.14,467.94M596.31,468.72L598.14,468.72M596.88,466.34L596.88,468.72M599.51,466.19L599.51,468.81M599.06,467.06L599.87,466.95M599.06,466.49L599.87,466.49M600.16,466.78L601.84,466.78M600.16,466.78L600.16,468.81M601.84,466.78L601.84,468.81M600.16,467.79L601.84,467.79M600.16,468.81L601.84,468.81M601.03,466.19L601.03,466.78" stroke="#666" stroke-width="0.5" fill="none"/>
<rect x="689" y="442.6" width="18.7" height="21.2" rx="2" fill="#f2f2f2" stroke="#9a9a9a" stroke-width="0.9" />
<rect x="690.5" y="445.57" width="15.71" height="15.69" rx="0.8" fill="#fafafa" stroke="#b0b0b0" stroke-width="0.6" />
<path d="M690.68,448.32 L706.02,448.32" stroke="#c8c8c8" stroke-width="0.6" fill="none" />
<polygon points="691.99,449.6 705.64,449.6 704.52,458.08 690.87,458.08" fill="#f6f6f6" stroke="#6a6a6a" stroke-width="0.7" />
<path d="M690.87,458.5 L704.52,458.5" stroke="#777" stroke-width="0.9" fill="none" />
<circle cx="695.92" cy="454.26" r="1.3" fill="none" stroke="#333" stroke-width="0.9"/>
<path d="M697.22,454.26 L701.42,454.26" stroke="#555" stroke-width="0.8" fill="none" />
<path d="M692.91,466.19L692.91,468.81M692.46,467.06L693.27,466.91M692.46,467.65L693.27,467.75M693.56,466.49L695.24,466.49M694.57,466.49L693.56,468.81M694.28,467.36L695.24,468.81M693.56,467.65L695.15,467.65M693.85,468.37L695.01,468.37M696.61,466.19L696.61,468.81M696.16,466.49L696.97,466.39M696.16,467.06L696.97,466.86M697.26,466.28L698.94,466.28M697.4,466.28L697.4,467.5M697.4,467.5L698.94,467.5M697.26,468.23L698.94,468.23M698.27,467.5L698.27,468.81M700.31,466.19L700.31,468.81M699.86,467.06L700.67,467.07M699.86,468.23L700.67,468.33M700.96,466.34L702.64,466.34M700.96,467.21L702.64,467.21M700.96,467.94L702.64,467.94M700.96,468.72L702.64,468.72M701.48,466.34L701.48,468.72M704.08,466.19L704.08,468.81M703.56,467.06L704.51,466.84M703.56,468.23L704.51,468.3M704.8,466.78L706.34,466.78M704.8,466.78L704.8,468.81M706.34,466.78L706.34,468.81M704.8,467.79L706.34,467.79M704.8,468.81L706.34,468.81M705.53,466.19L705.53,466.78" stroke="#666" stroke-width="0.5" fill="none"/>
<rect x="800.2" y="442.6" width="18.7" height="21.2" rx="2" fill="#f2f2f2" stroke="#9a9a9a" stroke-width="0.9" />
<rect x="801.7" y="445.57" width="15.71" height="15.69" rx="0.8" fill="#fafafa" stroke="#b0b0b0" stroke-width="0.6" />
<path d="M801.88,448.32 L817.22,448.32" stroke="#c8c8c8" stroke-width="0.6" fill="none" />
<polygon points="803.19,449.6 816.84,449.6 815.72,458.08 802.07,458.08" fill="#f6f6f6" stroke="#6a6a6a" stroke-width="0.7" />
<path d="M802.07,458.5 L815.72,458.5" stroke="#777" stroke-width="0.9" fill="none" />
<circle cx="807.12" cy="454.26" r="1.3" fill="none" stroke="#333" stroke-width="0.9"/>
<path d="M808.42,454.26 L812.62,454.26" stroke="#555" stroke-width="0.8" fill="none" />
<path d="M804.18,466.19L804.18,468.81M803.66,467.06L804.62,467.2M803.66,466.49L804.62,466.34M804.9,466.28L806.44,466.28M805.05,466.28L805.05,467.5M805.05,467.5L806.44,467.5M804.9,468.23L806.44,468.23M805.77,467.5L805.77,468.81M807.81,466.19L807.81,468.81M807.36,467.65L808.17,467.6M807.36,466.49L808.17,466.31M808.46,466.49L810.14,466.49M809.48,466.49L808.46,468.81M809.19,467.36L810.14,468.81M808.46,467.65L810.06,467.65M808.75,468.37L809.91,468.37M811.58,466.19L811.58,468.81M811.06,467.06L812.01,466.84M811.06,466.49L812.01,466.43M812.3,466.34L813.84,466.34M812.3,467.21L813.84,467.21M812.3,467.94L813.84,467.94M812.3,468.72L813.84,468.72M812.78,466.34L812.78,468.72M815.21,466.19L815.21,468.81M814.76,467.06L815.57,466.91M814.76,467.65L815.57,467.44M815.86,466.28L817.54,466.28M816,466.28L816,467.5M816,467.5L817.54,467.5M815.86,468.23L817.54,468.23M816.88,467.5L816.88,468.81" stroke="#666" stroke-width="0.5" fill="none"/>
<rect x="905.3" y="442.6" width="18.7" height="21.2" rx="2" fill="#f2f2f2" stroke="#9a9a9a" stroke-width="0.9" />
<rect x="906.8" y="445.57" width="15.71" height="15.69" rx="0.8" fill="#fafafa" stroke="#b0b0b0" stroke-width="0.6" />
<path d="M906.98,448.32 L922.32,448.32" stroke="#c8c8c8" stroke-width="0.6" fill="none" />
<polygon points="908.29,449.6 921.94,449.6 920.82,458.08 907.17,458.08" fill="#f6f6f6" stroke="#6a6a6a" stroke-width="0.7" />
<path d="M907.17,458.5 L920.82,458.5" stroke="#777" stroke-width="0.9" fill="none" />
<circle cx="912.22" cy="454.26" r="1.3" fill="none" stroke="#333" stroke-width="0.9"/>
<path d="M913.52,454.26 L917.72,454.26" stroke="#555" stroke-width="0.8" fill="none" />
<path d="M909.21,466.19L909.21,468.81M908.76,468.23L909.57,468.34M908.76,467.06L909.57,466.93M909.86,466.34L911.54,466.34M909.86,467.21L911.54,467.21M909.86,467.94L911.54,467.94M909.86,468.72L911.54,468.72M910.38,466.34L910.38,468.72M912.91,466.19L912.91,468.81M912.46,466.49L913.27,466.5M912.46,468.23L913.27,468.1M913.56,466.49L915.24,466.49M914.57,466.49L913.56,468.81M914.28,467.36L915.24,468.81M913.56,467.65L915.15,467.65M913.85,468.37L915.01,468.37M916.68,466.19L916.68,468.81M916.16,466.49L917.11,466.5M916.16,468.23L917.11,468.35M917.4,466.78L918.94,466.78M917.4,466.78L917.4,468.81M918.94,466.78L918.94,468.81M917.4,467.79L918.94,467.79M917.4,468.81L918.94,468.81M918.13,466.19L918.13,466.78M920.31,466.19L920.31,468.81M919.86,467.06L920.67,467.06M919.86,468.23L920.67,468M920.96,466.34L922.64,466.34M920.96,467.21L922.64,467.21M920.96,467.94L922.64,467.94M920.96,468.72L922.64,468.72M921.48,466.34L921.48,468.72" stroke="#666" stroke-width="0.5" fill="none"/>
<defs><linearGradient id="cr511" x1="0" y1="0" x2="1" y2="1"><stop offset="0" stop-color="#3a3a3a"/><stop offset="0.5" stop-color="#101010"/><stop offset="1" stop-color="#202020"/></linearGradient></defs>
<rect x="511.4" y="441.9" width="18.3" height="21" rx="1.5" fill="url(#cr511)" stroke="#777" stroke-width="0.5" />
<circle cx="516.89" cy="448.2" r="2.56" fill="#1a1a1a" stroke="#7a8a98" stroke-width="1.0"/>
<circle cx="520.55" cy="451.35" r="0.45" fill="#5a5a5a"/>
<circle cx="523.48" cy="451.35" r="0.45" fill="#5a5a5a"/>
<circle cx="526.41" cy="451.35" r="0.45" fill="#5a5a5a"/>
<circle cx="520.55" cy="454.29" r="0.45" fill="#5a5a5a"/>
<circle cx="523.48" cy="454.29" r="0.45" fill="#5a5a5a"/>
<circle cx="526.41" cy="454.29" r="0.45" fill="#5a5a5a"/>
<circle cx="520.55" cy="457.23" r="0.45" fill="#5a5a5a"/>
<circle cx="523.48" cy="457.23" r="0.45" fill="#5a5a5a"/>
<circle cx="526.41" cy="457.23" r="0.45" fill="#5a5a5a"/>
<circle cx="520.55" cy="460.17" r="0.45" fill="#5a5a5a"/>
<circle cx="523.48" cy="460.17" r="0.45" fill="#5a5a5a"/>
<circle cx="526.41" cy="460.17" r="0.45" fill="#5a5a5a"/>
<path d="M506.79,466.53L506.79,468.87M506.45,467.83L507.05,467.78M506.45,468.35L507.05,468.19M507.31,466.66L508.95,466.66M507.31,467.44L508.95,467.44M507.31,468.09L508.95,468.09M507.31,468.79L508.95,468.79M507.82,466.66L507.82,468.79M509.94,466.53L509.94,468.87M509.6,467.31L510.2,467.33M509.6,467.83L510.2,467.89M510.46,467.05L512.1,467.05M510.46,467.05L510.46,468.87M512.1,467.05L512.1,468.87M510.46,467.96L512.1,467.96M510.46,468.87L512.1,468.87M511.37,466.53L511.37,467.05M513.15,466.53L513.15,468.87M512.75,466.79L513.48,466.69M512.75,467.83L513.48,467.72M513.74,466.61L515.25,466.61M513.87,466.61L513.87,467.7M513.87,467.7L515.25,467.7M513.74,468.35L515.25,468.35M514.65,467.7L514.65,468.87M516.24,466.53L516.24,468.87M515.9,466.79L516.5,466.75M515.9,468.35L516.5,468.24M516.76,467.05L518.4,467.05M516.76,467.05L516.76,468.87M518.4,467.05L518.4,468.87M516.76,467.96L518.4,467.96M516.76,468.87L518.4,468.87M517.67,466.53L517.67,467.05M519.39,466.53L519.39,468.87M519.05,467.83L519.65,467.88M519.05,467.31L519.65,467.38M519.91,466.61L521.55,466.61M520.04,466.61L520.04,467.7M520.04,467.7L521.55,467.7M519.91,468.35L521.55,468.35M520.95,467.7L520.95,468.87M522.67,466.53L522.67,468.87M522.2,466.79L523.06,466.7M522.2,468.35L523.06,468.32M523.32,466.66L524.7,466.66M523.32,467.44L524.7,467.44M523.32,468.09L524.7,468.09M523.32,468.79L524.7,468.79M523.75,466.66L523.75,468.79M525.69,466.53L525.69,468.87M525.35,468.35L525.95,468.4M525.35,466.79L525.95,466.85M526.21,466.79L527.85,466.79M527.25,466.79L526.21,468.87M526.99,467.57L527.85,468.87M526.21,467.83L527.77,467.83M526.47,468.48L527.64,468.48" stroke="#777" stroke-width="0.42" fill="none"/>
<defs><linearGradient id="cr615" x1="0" y1="0" x2="1" y2="1"><stop offset="0" stop-color="#3a3a3a"/><stop offset="0.5" stop-color="#101010"/><stop offset="1" stop-color="#202020"/></linearGradient></defs>
<rect x="615.8" y="441.9" width="18.3" height="21" rx="1.5" fill="url(#cr615)" stroke="#777" stroke-width="0.5" />
<circle cx="621.29" cy="448.2" r="2.56" fill="#1a1a1a" stroke="#7a8a98" stroke-width="1.0"/>
<circle cx="624.95" cy="451.35" r="0.45" fill="#5a5a5a"/>
<circle cx="627.88" cy="451.35" r="0.45" fill="#5a5a5a"/>
<circle cx="630.81" cy="451.35" r="0.45" fill="#5a5a5a"/>
<circle cx="624.95" cy="454.29" r="0.45" fill="#5a5a5a"/>
<circle cx="627.88" cy="454.29" r="0.45" fill="#5a5a5a"/>
<circle cx="630.81" cy="454.29" r="0.45" fill="#5a5a5a"/>
<circle cx="624.95" cy="457.23" r="0.45" fill="#5a5a5a"/>
<circle cx="627.88" cy="457.23" r="0.45" fill="#5a5a5a"/>
<circle cx="630.81" cy="457.23" r="0.45" fill="#5a5a5a"/>
<circle cx="624.95" cy="460.17" r="0.45" fill="#5a5a5a"/>
<circle cx="627.88" cy="460.17" r="0.45" fill="#5a5a5a"/>
<circle cx="630.81" cy="460.17" r="0.45" fill="#5a5a5a"/>
<path d="M611.25,466.53L611.25,468.87M610.85,466.79L611.58,466.91M610.85,467.31L611.58,467.38M611.84,467.05L613.35,467.05M611.84,467.05L611.84,468.87M613.35,467.05L613.35,468.87M611.84,467.96L613.35,467.96M611.84,468.87L613.35,468.87M612.62,466.53L612.62,467.05M614.4,466.53L614.4,468.87M614,466.79L614.73,466.76M614,468.35L614.73,468.34M614.99,466.66L616.5,466.66M614.99,467.44L616.5,467.44M614.99,468.09L616.5,468.09M614.99,468.79L616.5,468.79M615.46,466.66L615.46,468.79M617.62,466.53L617.62,468.87M617.15,467.83L618.01,467.88M617.15,467.31L618.01,467.22M618.27,467.05L619.65,467.05M618.27,467.05L618.27,468.87M619.65,467.05L619.65,468.87M618.27,467.96L619.65,467.96M618.27,468.87L619.65,468.87M618.92,466.53L618.92,467.05M620.64,466.53L620.64,468.87M620.3,467.83L620.9,467.63M620.3,468.35L620.9,468.36M621.16,467.05L622.8,467.05M621.16,467.05L621.16,468.87M622.8,467.05L622.8,468.87M621.16,467.96L622.8,467.96M621.16,468.87L622.8,468.87M622.07,466.53L622.07,467.05M623.79,466.53L623.79,468.87M623.45,467.83L624.05,467.77M623.45,467.31L624.05,467.13M624.31,466.66L625.95,466.66M624.31,467.44L625.95,467.44M624.31,468.09L625.95,468.09M624.31,468.79L625.95,468.79M624.82,466.66L624.82,468.79M626.94,466.53L626.94,468.87M626.6,467.31L627.2,467.19M626.6,466.79L627.2,466.83M627.46,466.79L629.1,466.79M628.5,466.79L627.46,468.87M628.24,467.57L629.1,468.87M627.46,467.83L629.02,467.83M627.72,468.48L628.89,468.48M630.15,466.53L630.15,468.87M629.75,466.79L630.48,466.7M629.75,467.31L630.48,467.23M630.74,466.66L632.25,466.66M630.74,467.44L632.25,467.44M630.74,468.09L632.25,468.09M630.74,468.79L632.25,468.79M631.21,466.66L631.21,468.79" stroke="#777" stroke-width="0.42" fill="none"/>
<defs><linearGradient id="cr730" x1="0" y1="0" x2="1" y2="1"><stop offset="0" stop-color="#3a3a3a"/><stop offset="0.5" stop-color="#101010"/><stop offset="1" stop-color="#202020"/></linearGradient></defs>
<rect x="730.2" y="441.9" width="18.3" height="21" rx="1.5" fill="url(#cr730)" stroke="#777" stroke-width="0.5" />
<circle cx="735.69" cy="448.2" r="2.56" fill="#1a1a1a" stroke="#7a8a98" stroke-width="1.0"/>
<circle cx="739.35" cy="451.35" r="0.45" fill="#5a5a5a"/>
<circle cx="742.28" cy="451.35" r="0.45" fill="#5a5a5a"/>
<circle cx="745.21" cy="451.35" r="0.45" fill="#5a5a5a"/>
<circle cx="739.35" cy="454.29" r="0.45" fill="#5a5a5a"/>
<circle cx="742.28" cy="454.29" r="0.45" fill="#5a5a5a"/>
<circle cx="745.21" cy="454.29" r="0.45" fill="#5a5a5a"/>
<circle cx="739.35" cy="457.23" r="0.45" fill="#5a5a5a"/>
<circle cx="742.28" cy="457.23" r="0.45" fill="#5a5a5a"/>
<circle cx="745.21" cy="457.23" r="0.45" fill="#5a5a5a"/>
<circle cx="739.35" cy="460.17" r="0.45" fill="#5a5a5a"/>
<circle cx="742.28" cy="460.17" r="0.45" fill="#5a5a5a"/>
<circle cx="745.21" cy="460.17" r="0.45" fill="#5a5a5a"/>
<path d="M725.59,466.53L725.59,468.87M725.25,467.31L725.85,467.34M725.25,468.35L725.85,468.35M726.11,466.79L727.75,466.79M727.15,466.79L726.11,468.87M726.89,467.57L727.75,468.87M726.11,467.83L727.67,467.83M726.37,468.48L727.54,468.48M728.87,466.53L728.87,468.87M728.4,467.31L729.26,467.34M728.4,467.83L729.26,467.7M729.52,467.05L730.9,467.05M729.52,467.05L729.52,468.87M730.9,467.05L730.9,468.87M729.52,467.96L730.9,467.96M729.52,468.87L730.9,468.87M730.17,466.53L730.17,467.05M732.02,466.53L732.02,468.87M731.55,466.79L732.41,466.85M731.55,467.83L732.41,467.78M732.67,466.66L734.05,466.66M732.67,467.44L734.05,467.44M732.67,468.09L734.05,468.09M732.67,468.79L734.05,468.79M733.1,466.66L733.1,468.79M735.11,466.53L735.11,468.87M734.7,466.79L735.43,466.61M734.7,467.31L735.43,467.21M735.69,466.66L737.2,466.66M735.69,467.44L737.2,467.44M735.69,468.09L737.2,468.09M735.69,468.79L737.2,468.79M736.16,466.66L736.16,468.79M738.26,466.53L738.26,468.87M737.85,467.83L738.58,467.74M737.85,467.31L738.58,467.18M738.84,466.61L740.35,466.61M738.97,466.61L738.97,467.7M738.97,467.7L740.35,467.7M738.84,468.35L740.35,468.35M739.75,467.7L739.75,468.87M741.47,466.53L741.47,468.87M741,467.31L741.86,467.3M741,468.35L741.86,468.38M742.12,466.79L743.5,466.79M742.9,466.79L742.12,468.87M742.64,467.57L743.5,468.87M742.12,467.83L743.42,467.83M742.38,468.48L743.29,468.48M744.56,466.53L744.56,468.87M744.15,467.83L744.88,467.78M744.15,466.79L744.88,466.88M745.14,466.66L746.65,466.66M745.14,467.44L746.65,467.44M745.14,468.09L746.65,468.09M745.14,468.79L746.65,468.79M745.61,466.66L745.61,468.79" stroke="#777" stroke-width="0.42" fill="none"/>
<defs><linearGradient id="cr833" x1="0" y1="0" x2="1" y2="1"><stop offset="0" stop-color="#3a3a3a"/><stop offset="0.5" stop-color="#101010"/><stop offset="1" stop-color="#202020"/></linearGradient></defs>
<rect x="833.6" y="441.9" width="18.3" height="21" rx="1.5" fill="url(#cr833)" stroke="#777" stroke-width="0.5" />
<circle cx="839.09" cy="448.2" r="2.56" fill="#1a1a1a" stroke="#7a8a98" stroke-width="1.0"/>
<circle cx="842.75" cy="451.35" r="0.45" fill="#5a5a5a"/>
<circle cx="845.68" cy="451.35" r="0.45" fill="#5a5a5a"/>
<circle cx="848.61" cy="451.35" r="0.45" fill="#5a5a5a"/>
<circle cx="842.75" cy="454.29" r="0.45" fill="#5a5a5a"/>
<circle cx="845.68" cy="454.29" r="0.45" fill="#5a5a5a"/>
<circle cx="848.61" cy="454.29" r="0.45" fill="#5a5a5a"/>
<circle cx="842.75" cy="457.23" r="0.45" fill="#5a5a5a"/>
<circle cx="845.68" cy="457.23" r="0.45" fill="#5a5a5a"/>
<circle cx="848.61" cy="457.23" r="0.45" fill="#5a5a5a"/>
<circle cx="842.75" cy="460.17" r="0.45" fill="#5a5a5a"/>
<circle cx="845.68" cy="460.17" r="0.45" fill="#5a5a5a"/>
<circle cx="848.61" cy="460.17" r="0.45" fill="#5a5a5a"/>
<path d="M829.06,466.53L829.06,468.87M828.65,466.79L829.38,466.74M828.65,467.83L829.38,467.68M829.64,466.79L831.15,466.79M830.55,466.79L829.64,468.87M830.29,467.57L831.15,468.87M829.64,467.83L831.07,467.83M829.9,468.48L830.94,468.48M832.27,466.53L832.27,468.87M831.8,466.79L832.66,466.72M831.8,467.31L832.66,467.27M832.92,466.61L834.3,466.61M833.05,466.61L833.05,467.7M833.05,467.7L834.3,467.7M832.92,468.35L834.3,468.35M833.7,467.7L833.7,468.87M835.29,466.53L835.29,468.87M834.95,466.79L835.55,466.72M834.95,467.31L835.55,467.39M835.81,466.61L837.45,466.61M835.94,466.61L835.94,467.7M835.94,467.7L837.45,467.7M835.81,468.35L837.45,468.35M836.85,467.7L836.85,468.87M838.51,466.53L838.51,468.87M838.1,468.35L838.83,468.33M838.1,467.31L838.83,467.25M839.09,466.66L840.6,466.66M839.09,467.44L840.6,467.44M839.09,468.09L840.6,468.09M839.09,468.79L840.6,468.79M839.56,466.66L839.56,468.79M841.66,466.53L841.66,468.87M841.25,467.31L841.98,467.39M841.25,467.83L841.98,467.78M842.24,466.79L843.75,466.79M843.15,466.79L842.24,468.87M842.89,467.57L843.75,468.87M842.24,467.83L843.67,467.83M842.5,468.48L843.54,468.48M844.81,466.53L844.81,468.87M844.4,467.31L845.13,467.11M844.4,466.79L845.13,466.88M845.39,466.79L846.9,466.79M846.3,466.79L845.39,468.87M846.04,467.57L846.9,468.87M845.39,467.83L846.82,467.83M845.65,468.48L846.69,468.48M847.96,466.53L847.96,468.87M847.55,466.79L848.28,466.75M847.55,468.35L848.28,468.45M848.54,466.61L850.05,466.61M848.67,466.61L848.67,467.7M848.67,467.7L850.05,467.7M848.54,468.35L850.05,468.35M849.45,467.7L849.45,468.87" stroke="#777" stroke-width="0.42" fill="none"/>
</svg>
</body></html>
